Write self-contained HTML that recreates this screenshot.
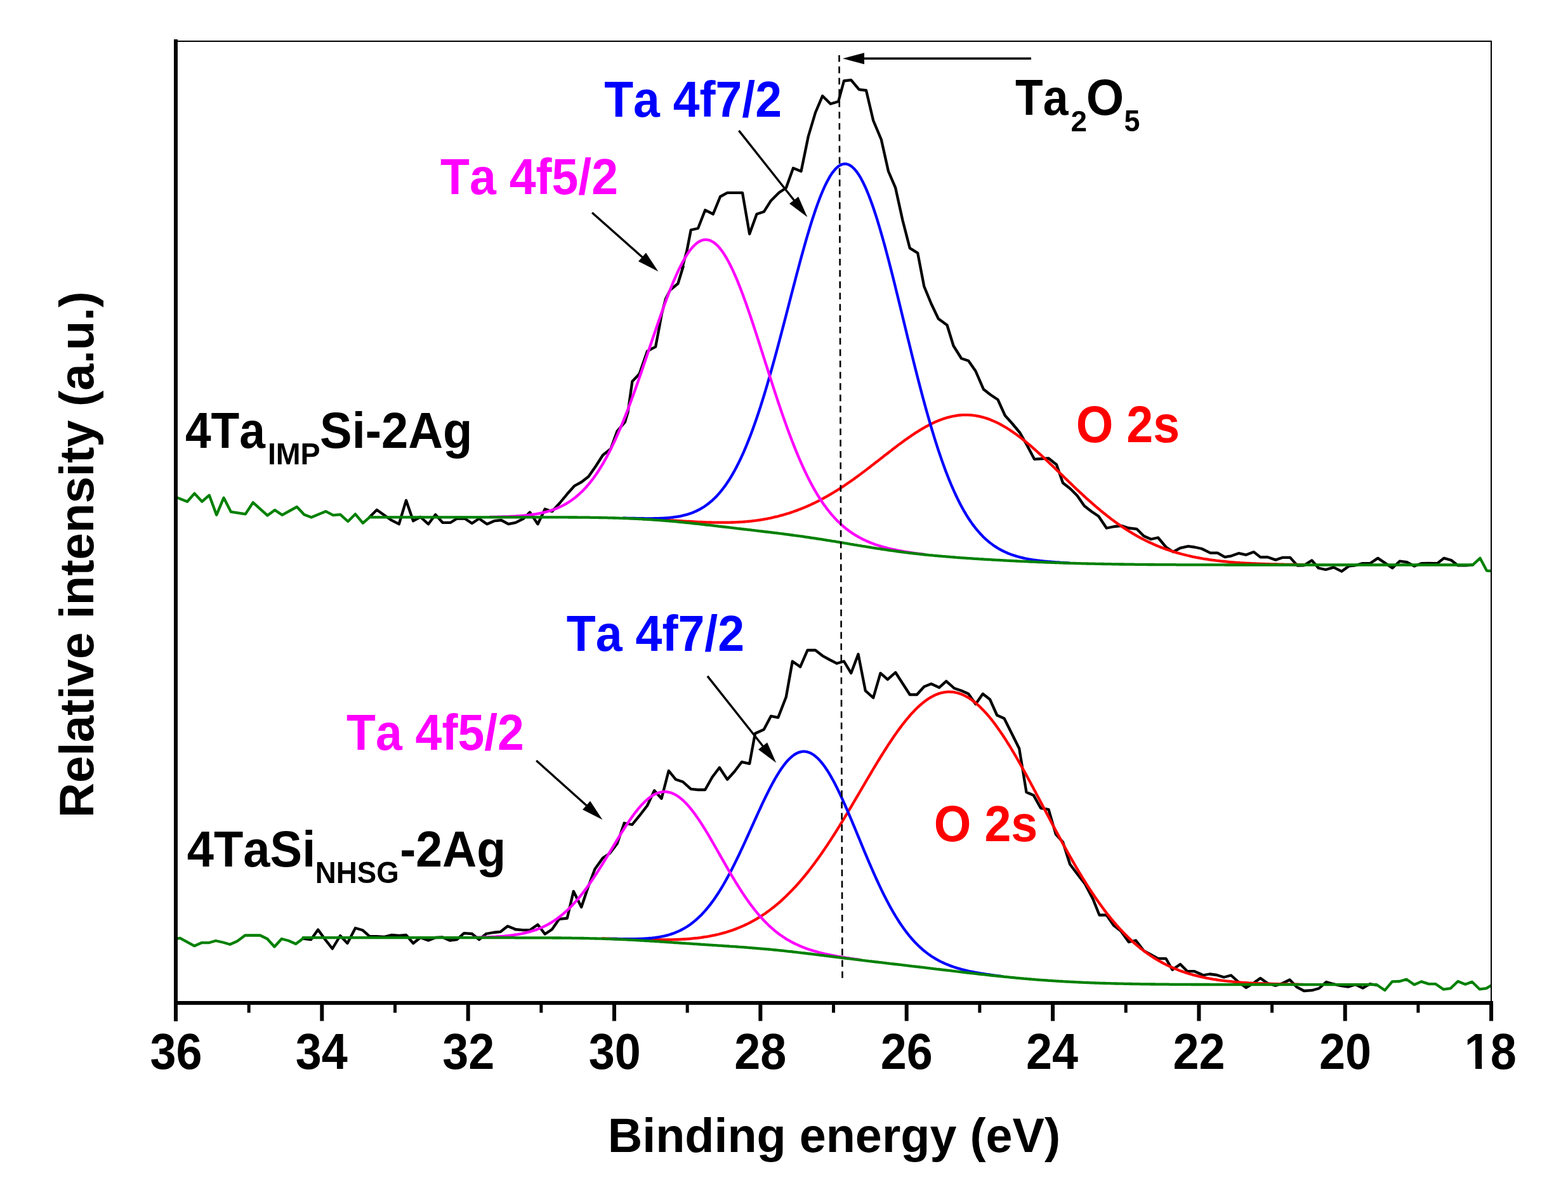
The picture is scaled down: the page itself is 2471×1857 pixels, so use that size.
<!DOCTYPE html><html><head><meta charset="utf-8"><title>XPS Ta 4f spectra</title><style>html,body{margin:0;padding:0;background:#fff}svg{display:block}</style></head><body>
<svg width="2471" height="1857" viewBox="0 0 2471 1857">
<rect width="2471" height="1857" fill="#fff"/>
<defs><clipPath id="pc"><rect x="280" y="66" width="2069" height="1512"/></clipPath></defs>
<g clip-path="url(#pc)" fill="none" stroke-width="4.3" stroke-linejoin="round" stroke-linecap="round">
<path stroke="#000" d="M582.5,815.0 L593.8,803.8 L617.0,820.2 L628.8,826.2 L640.0,788.8 L651.2,821.2 L662.5,815.0 L675.0,826.2 L686.2,811.2 L697.5,823.8 L710.0,823.8 L720.0,817.5 L732.5,817.5 L743.8,825.0 L755.0,817.5 L767.5,826.2 L778.8,821.2 L790.0,820.0 L801.2,826.2 L812.5,823.8 L825.0,817.5 L835.0,807.5 L847.5,826.2 L858.8,802.5 L870.0,806.2 L882.5,792.5 L893.8,778.8 L905.0,766.2 L916.2,760.0 L927.5,751.2 L938.8,735.0 L950.0,717.5 L962.5,707.5 L972.5,680.0 L985.0,665.0 L989.5,650.0 L996.4,601.3 L1007.5,589.6 L1020.0,553.6 L1033.1,546.6 L1039.3,514.1 L1042.8,494.7 L1049.0,471.2 L1056.0,457.4 L1068.4,447.0 L1076.7,420.0 L1075.0,422.5 L1082.5,395.0 L1088.8,362.5 L1100.0,360.0 L1111.2,331.2 L1123.8,337.5 L1135.0,310.0 L1146.2,303.8 L1170.0,303.8 L1181.2,368.8 L1192.5,337.5 L1203.8,333.8 L1215.0,316.2 L1227.5,303.8 L1238.8,296.2 L1250.0,265.0 L1262.5,270.0 L1273.8,215.0 L1285.0,177.5 L1296.2,151.2 L1308.8,163.8 L1321.2,160.0 L1330.0,127.5 L1341.2,126.2 L1353.8,141.2 L1365.0,142.5 L1376.2,190.0 L1388.8,220.0 L1400.0,270.0 L1411.2,296.2 L1422.5,347.5 L1433.8,391.2 L1446.2,398.8 L1456.2,451.2 L1467.5,478.8 L1478.8,502.5 L1492.5,512.5 L1502.5,545.0 L1515.0,565.0 L1526.2,568.8 L1537.5,585.0 L1550.0,613.8 L1561.2,622.5 L1572.5,630.0 L1583.8,655.0 L1595.0,667.5 L1607.5,682.5 L1618.8,702.5 L1630.0,723.8 L1652.5,722.5 L1665.0,732.5 L1675.0,761.2 L1686.2,770.0 L1697.5,781.2 L1708.8,797.5 L1720.0,806.2 L1731.2,813.8 L1743.8,832.5 L1756.2,830.0 L1767.5,828.8 L1778.8,832.5 L1791.2,833.8 L1802.5,845.0 L1813.8,850.0 L1825.0,847.5 L1837.5,862.5 L1848.8,870.0 L1860.0,863.8 L1872.5,861.2 L1882.5,862.5 L1893.8,865.0 L1907.3,871.6 L1918.7,871.6 L1930.2,878.2 L1940.6,876.3 L1952.0,872.2 L1963.4,874.7 L1975.9,870.1 L1986.3,878.4 L1997.7,878.2 L2010.2,882.6 L2021.7,878.8 L2033.1,878.8 L2044.5,891.7 L2054.9,891.3 L2067.4,883.4 L2077.8,895.5 L2089.2,898.0 L2101.7,894.4 L2114.2,900.7 L2125.6,892.4 L2136.0,891.3 L2146.4,888.2 L2158.9,888.2 L2171.4,879.9 L2182.8,887.6 L2194.3,895.5 L2205.7,884.7 L2217.1,886.1 L2228.6,892.4 L2240.0,888.2 L2251.4,887.8 L2265.0,888.2 L2275.4,879.9 L2286.8,883.0 L2297.2,891.3 L2310.7,891.3 L2321.1,890.3"/>
<path stroke="#000" d="M477.5,1479.5 L490.0,1481.2 L501.2,1465.5 L512.5,1481.2 L523.8,1495.5 L536.2,1475.0 L547.5,1487.0 L560.0,1463.0 L571.2,1466.2 L582.5,1476.2 L593.8,1476.2 L605.0,1477.0 L617.5,1473.8 L628.8,1475.0 L640.0,1473.8 L651.2,1487.0 L662.5,1478.0 L675.0,1482.5 L686.2,1478.0 L697.5,1477.5 L708.8,1482.5 L720.0,1481.2 L731.2,1471.2 L743.8,1472.0 L755.0,1481.2 L766.2,1472.0 L777.5,1470.0 L788.8,1468.8 L800.0,1460.0 L812.5,1465.0 L811.2,1465.0 L823.8,1466.2 L835.0,1466.2 L847.5,1457.5 L858.8,1472.5 L870.0,1465.0 L881.2,1448.8 L893.8,1447.5 L903.8,1405.0 L916.2,1430.0 L926.2,1400.0 L937.5,1370.0 L950.0,1352.5 L961.2,1345.0 L972.5,1330.0 L983.8,1297.5 L996.2,1300.0 L1007.5,1286.2 L1020.0,1270.0 L1031.2,1246.2 L1042.5,1258.8 L1053.8,1215.0 L1065.0,1228.8 L1076.2,1232.5 L1088.8,1243.8 L1100.0,1245.0 L1111.2,1245.0 L1122.5,1225.0 L1133.8,1210.0 L1146.2,1228.8 L1157.5,1216.2 L1168.8,1201.2 L1181.2,1203.8 L1190.0,1156.2 L1203.8,1150.0 L1215.0,1128.8 L1226.2,1131.2 L1238.8,1098.8 L1248.8,1042.5 L1261.2,1051.2 L1272.5,1025.0 L1285.0,1025.0 L1296.2,1033.8 L1307.5,1040.0 L1318.8,1045.8 L1330.0,1042.5 L1341.2,1061.2 L1352.5,1031.2 L1363.8,1088.8 L1376.2,1100.0 L1387.5,1061.2 L1398.8,1071.2 L1411.2,1060.0 L1422.5,1077.5 L1433.8,1095.0 L1445.0,1095.0 L1456.2,1082.5 L1467.5,1078.0 L1480.0,1083.8 L1491.2,1073.8 L1503.8,1085.0 L1515.0,1088.8 L1526.2,1093.8 L1537.5,1110.0 L1548.8,1093.8 L1560.0,1102.5 L1571.2,1127.5 L1582.5,1132.5 L1595.0,1157.5 L1606.2,1180.0 L1617.5,1248.8 L1628.8,1253.8 L1640.0,1273.8 L1652.5,1276.2 L1663.8,1315.0 L1675.0,1327.5 L1686.2,1362.5 L1686.2,1362.5 L1697.5,1377.5 L1710.0,1393.8 L1722.5,1417.5 L1732.5,1442.5 L1743.8,1442.5 L1755.0,1458.8 L1766.2,1467.5 L1778.8,1485.0 L1790.0,1482.5 L1802.5,1498.8 L1813.8,1505.0 L1825.0,1511.2 L1837.5,1511.2 L1847.5,1528.8 L1860.0,1520.0 L1871.2,1531.2 L1882.5,1531.2 L1893.8,1536.2 L1895.0,1537.5 L1906.2,1535.5 L1917.5,1537.0 L1928.8,1540.5 L1940.0,1537.5 L1951.2,1547.5 L1963.8,1557.0 L1975.0,1550.0 L1986.2,1542.0 L1997.5,1550.0 L2010.0,1553.8 L2021.2,1550.0 L2032.5,1544.5 L2043.8,1556.2 L2055.0,1562.0 L2067.5,1561.2 L2078.8,1558.0 L2090.0,1548.0 L2101.2,1551.2 L2112.5,1553.8 L2125.0,1555.5 L2136.2,1552.0 L2147.5,1557.5 L2158.8,1551.2 L2170.0,1553.0"/>
<path stroke="#ff0000" d="M1000.5,817.4 L1002.5,817.5 L1004.5,817.5 L1006.5,817.6 L1008.5,817.7 L1010.5,817.8 L1012.5,817.9 L1014.5,818.0 L1016.5,818.1 L1018.5,818.2 L1020.5,818.3 L1022.5,818.4 L1024.5,818.5 L1026.5,818.6 L1028.5,818.7 L1030.5,818.8 L1032.5,818.9 L1034.5,819.0 L1036.5,819.1 L1038.5,819.2 L1040.5,819.3 L1042.5,819.4 L1044.5,819.5 L1046.5,819.7 L1048.5,819.8 L1050.5,819.9 L1052.5,820.0 L1054.5,820.1 L1056.5,820.3 L1058.5,820.4 L1060.5,820.5 L1062.5,820.6 L1064.5,820.7 L1066.5,820.9 L1068.5,821.0 L1070.5,821.1 L1072.5,821.2 L1074.5,821.3 L1076.5,821.5 L1078.5,821.6 L1080.5,821.7 L1082.5,821.8 L1084.5,821.9 L1086.5,822.0 L1088.5,822.1 L1090.5,822.2 L1092.5,822.4 L1094.5,822.5 L1096.5,822.6 L1098.5,822.7 L1100.5,822.8 L1102.5,822.8 L1104.5,822.9 L1106.5,823.0 L1108.5,823.1 L1110.5,823.2 L1112.5,823.3 L1114.5,823.3 L1116.5,823.4 L1118.5,823.5 L1120.5,823.5 L1122.5,823.6 L1124.5,823.6 L1126.5,823.6 L1128.5,823.7 L1130.5,823.7 L1132.5,823.7 L1134.5,823.7 L1136.5,823.7 L1138.5,823.7 L1140.5,823.7 L1142.5,823.7 L1144.5,823.7 L1146.5,823.7 L1148.5,823.6 L1150.5,823.6 L1152.5,823.5 L1154.5,823.5 L1156.5,823.4 L1158.5,823.3 L1160.5,823.2 L1162.5,823.1 L1164.5,823.0 L1166.5,822.9 L1168.5,822.8 L1170.5,822.6 L1172.5,822.5 L1174.5,822.3 L1176.5,822.2 L1178.5,822.0 L1180.5,821.8 L1182.5,821.6 L1184.5,821.4 L1186.5,821.1 L1188.5,820.9 L1190.5,820.6 L1192.5,820.4 L1194.5,820.1 L1196.5,819.8 L1198.5,819.5 L1200.5,819.2 L1202.5,818.8 L1204.5,818.5 L1206.5,818.1 L1208.5,817.8 L1210.5,817.4 L1212.5,817.0 L1214.5,816.6 L1216.5,816.1 L1218.5,815.7 L1220.5,815.2 L1222.5,814.7 L1224.5,814.3 L1226.5,813.8 L1228.5,813.2 L1230.5,812.7 L1232.5,812.2 L1234.5,811.6 L1236.5,811.0 L1238.5,810.4 L1240.5,809.8 L1242.5,809.2 L1244.5,808.6 L1246.5,807.9 L1248.5,807.2 L1250.5,806.5 L1252.5,805.8 L1254.5,805.1 L1256.5,804.4 L1258.5,803.6 L1260.5,802.8 L1262.5,802.1 L1264.5,801.3 L1266.5,800.4 L1268.5,799.6 L1270.5,798.7 L1272.5,797.9 L1274.5,797.0 L1276.5,796.1 L1278.5,795.2 L1280.5,794.2 L1282.5,793.3 L1284.5,792.3 L1286.5,791.3 L1288.5,790.3 L1290.5,789.3 L1292.5,788.2 L1294.5,787.2 L1296.5,786.1 L1298.5,785.0 L1300.5,783.9 L1302.5,782.8 L1304.5,781.7 L1306.5,780.5 L1308.5,779.4 L1310.5,778.2 L1312.5,777.0 L1314.5,775.8 L1316.5,774.5 L1318.5,773.3 L1320.5,772.0 L1322.5,770.8 L1324.5,769.5 L1326.5,768.2 L1328.5,766.9 L1330.5,765.5 L1332.5,764.2 L1334.5,762.8 L1336.5,761.5 L1338.5,760.1 L1340.5,758.7 L1342.5,757.3 L1344.5,755.9 L1346.5,754.4 L1348.5,753.0 L1350.5,751.5 L1352.5,750.1 L1354.5,748.6 L1356.5,747.1 L1358.5,745.6 L1360.5,744.1 L1362.5,742.6 L1364.5,741.1 L1366.5,739.6 L1368.5,738.0 L1370.5,736.5 L1372.5,735.0 L1374.5,733.4 L1376.5,731.9 L1378.5,730.3 L1380.5,728.8 L1382.5,727.2 L1384.5,725.6 L1386.5,724.1 L1388.5,722.5 L1390.5,721.0 L1392.5,719.4 L1394.5,717.8 L1396.5,716.3 L1398.5,714.7 L1400.5,713.2 L1402.5,711.6 L1404.5,710.1 L1406.5,708.5 L1408.5,707.0 L1410.5,705.5 L1412.5,703.9 L1414.5,702.4 L1416.5,700.9 L1418.5,699.4 L1420.5,698.0 L1422.5,696.5 L1424.5,695.0 L1426.5,693.6 L1428.5,692.2 L1430.5,690.7 L1432.5,689.4 L1434.5,688.0 L1436.5,686.6 L1438.5,685.3 L1440.5,683.9 L1442.5,682.6 L1444.5,681.3 L1446.5,680.1 L1448.5,678.8 L1450.5,677.6 L1452.5,676.4 L1454.5,675.2 L1456.5,674.1 L1458.5,672.9 L1460.5,671.8 L1462.5,670.8 L1464.5,669.7 L1466.5,668.7 L1468.5,667.7 L1470.5,666.8 L1472.5,665.8 L1474.5,664.9 L1476.5,664.1 L1478.5,663.2 L1480.5,662.4 L1482.5,661.7 L1484.5,661.0 L1486.5,660.3 L1488.5,659.6 L1490.5,659.0 L1492.5,658.4 L1494.5,657.8 L1496.5,657.3 L1498.5,656.8 L1500.5,656.4 L1502.5,656.0 L1504.5,655.6 L1506.5,655.3 L1508.5,655.0 L1510.5,654.7 L1512.5,654.5 L1514.5,654.4 L1516.5,654.2 L1518.5,654.1 L1520.5,654.1 L1522.5,654.1 L1524.5,654.1 L1526.5,654.2 L1528.5,654.3 L1530.5,654.4 L1532.5,654.6 L1534.5,654.9 L1536.5,655.1 L1538.5,655.5 L1540.5,655.8 L1542.5,656.2 L1544.5,656.7 L1546.5,657.1 L1548.5,657.7 L1550.5,658.2 L1552.5,658.8 L1554.5,659.4 L1556.5,660.1 L1558.5,660.8 L1560.5,661.6 L1562.5,662.4 L1564.5,663.2 L1566.5,664.1 L1568.5,665.0 L1570.5,665.9 L1572.5,666.9 L1574.5,667.9 L1576.5,669.0 L1578.5,670.0 L1580.5,671.2 L1582.5,672.3 L1584.5,673.5 L1586.5,674.7 L1588.5,676.0 L1590.5,677.2 L1592.5,678.6 L1594.5,679.9 L1596.5,681.3 L1598.5,682.7 L1600.5,684.1 L1602.5,685.5 L1604.5,687.0 L1606.5,688.5 L1608.5,690.1 L1610.5,691.6 L1612.5,693.2 L1614.5,694.8 L1616.5,696.4 L1618.5,698.1 L1620.5,699.8 L1622.5,701.4 L1624.5,703.2 L1626.5,704.9 L1628.5,706.6 L1630.5,708.4 L1632.5,710.2 L1634.5,712.0 L1636.5,713.8 L1638.5,715.6 L1640.5,717.4 L1642.5,719.3 L1644.5,721.1 L1646.5,723.0 L1648.5,724.9 L1650.5,726.8 L1652.5,728.7 L1654.5,730.6 L1656.5,732.5 L1658.5,734.4 L1660.5,736.3 L1662.5,738.2 L1664.5,740.2 L1666.5,742.1 L1668.5,744.0 L1670.5,746.0 L1672.5,747.9 L1674.5,749.8 L1676.5,751.8 L1678.5,753.7 L1680.5,755.6 L1682.5,757.6 L1684.5,759.5 L1686.5,761.4 L1688.5,763.3 L1690.5,765.3 L1692.5,767.2 L1694.5,769.1 L1696.5,771.0 L1698.5,772.8 L1700.5,774.7 L1702.5,776.6 L1704.5,778.4 L1706.5,780.3 L1708.5,782.1 L1710.5,784.0 L1712.5,785.8 L1714.5,787.6 L1716.5,789.4 L1718.5,791.1 L1720.5,792.9 L1722.5,794.7 L1724.5,796.4 L1726.5,798.1 L1728.5,799.8 L1730.5,801.5 L1732.5,803.2 L1734.5,804.9 L1736.5,806.5 L1738.5,808.1 L1740.5,809.7 L1742.5,811.3 L1744.5,812.9 L1746.5,814.5 L1748.5,816.0 L1750.5,817.6 L1752.5,819.1 L1754.5,820.6 L1756.5,822.0 L1758.5,823.5 L1760.5,824.9 L1762.5,826.3 L1764.5,827.7 L1766.5,829.1 L1768.5,830.5 L1770.5,831.8 L1772.5,833.1 L1774.5,834.4 L1776.5,835.7 L1778.5,837.0 L1780.5,838.2 L1782.5,839.4 L1784.5,840.6 L1786.5,841.8 L1788.5,843.0 L1790.5,844.1 L1792.5,845.3 L1794.5,846.4 L1796.5,847.5 L1798.5,848.5 L1800.5,849.6 L1802.5,850.6 L1804.5,851.6 L1806.5,852.6 L1808.5,853.6 L1810.5,854.5 L1812.5,855.5 L1814.5,856.4 L1816.5,857.3 L1818.5,858.2 L1820.5,859.1 L1822.5,859.9 L1824.5,860.7 L1826.5,861.6 L1828.5,862.4 L1830.5,863.1 L1832.5,863.9 L1834.5,864.6 L1836.5,865.4 L1838.5,866.1 L1840.5,866.8 L1842.5,867.5 L1844.5,868.1 L1846.5,868.8 L1848.5,869.4 L1850.5,870.1 L1852.5,870.7 L1854.5,871.3 L1856.5,871.8 L1858.5,872.4 L1860.5,873.0 L1862.5,873.5 L1864.5,874.0 L1866.5,874.5 L1868.5,875.0 L1870.5,875.5 L1872.5,876.0 L1874.5,876.4 L1876.5,876.9 L1878.5,877.3 L1880.5,877.8 L1882.5,878.2 L1884.5,878.6 L1886.5,879.0 L1888.5,879.3 L1890.5,879.7 L1892.5,880.1 L1894.5,880.4 L1896.5,880.8 L1898.5,881.1 L1900.5,881.4 L1902.5,881.7 L1904.5,882.0 L1906.5,882.3 L1908.5,882.6 L1910.5,882.9 L1912.5,883.1 L1914.5,883.4 L1916.5,883.7 L1918.5,883.9 L1920.5,884.1 L1922.5,884.4 L1924.5,884.6 L1926.5,884.8 L1928.5,885.0 L1930.5,885.2 L1932.5,885.4 L1934.5,885.6 L1936.5,885.8 L1938.5,886.0 L1940.5,886.1 L1942.5,886.3 L1944.5,886.5 L1946.5,886.6 L1948.5,886.8 L1950.5,886.9 L1952.5,887.0 L1954.5,887.2 L1956.5,887.3 L1958.5,887.4 L1960.5,887.6 L1962.5,887.7 L1964.5,887.8 L1966.5,887.9 L1968.5,888.0 L1970.5,888.1 L1972.5,888.2 L1974.5,888.3 L1976.5,888.4 L1978.5,888.5 L1980.5,888.6 L1982.5,888.6 L1984.5,888.7 L1986.5,888.8 L1988.5,888.9 L1990.5,888.9 L1992.5,889.0 L1994.5,889.1 L1996.5,889.1 L1998.5,889.2 L2000.5,889.2 L2002.5,889.3 L2004.5,889.3 L2006.5,889.4 L2008.5,889.4 L2010.5,889.5 L2012.5,889.5 L2014.5,889.6 L2016.5,889.6 L2018.5,889.7 L2020.5,889.7 L2022.5,889.7 L2024.5,889.8 L2026.5,889.8 L2028.5,889.8 L2030.5,889.9 L2032.5,889.9 L2034.5,889.9 L2036.5,890.0 L2038.5,890.0 L2040.5,890.0 L2042.5,890.0 L2044.5,890.0 L2046.5,890.1 L2048.5,890.1 L2050.5,890.1 L2052.5,890.1 L2054.5,890.1 L2056.5,890.2"/>
<path stroke="#0000ff" d="M982.5,816.6 L984.5,816.7 L986.5,816.7 L988.5,816.8 L990.5,816.8 L992.5,816.9 L994.5,816.9 L996.5,816.9 L998.5,817.0 L1000.5,817.0 L1002.5,817.1 L1004.5,817.1 L1006.5,817.1 L1008.5,817.2 L1010.5,817.2 L1012.5,817.2 L1014.5,817.2 L1016.5,817.3 L1018.5,817.3 L1020.5,817.3 L1022.5,817.3 L1024.5,817.3 L1026.5,817.3 L1028.5,817.3 L1030.5,817.2 L1032.5,817.2 L1034.5,817.2 L1036.5,817.1 L1038.5,817.1 L1040.5,817.0 L1042.5,816.9 L1044.5,816.8 L1046.5,816.7 L1048.5,816.6 L1050.5,816.4 L1052.5,816.3 L1054.5,816.1 L1056.5,815.9 L1058.5,815.7 L1060.5,815.5 L1062.5,815.2 L1064.5,814.9 L1066.5,814.6 L1068.5,814.3 L1070.5,814.0 L1072.5,813.6 L1074.5,813.1 L1076.5,812.7 L1078.5,812.2 L1080.5,811.7 L1082.5,811.1 L1084.5,810.5 L1086.5,809.9 L1088.5,809.2 L1090.5,808.5 L1092.5,807.7 L1094.5,806.8 L1096.5,806.0 L1098.5,805.0 L1100.5,804.0 L1102.5,803.0 L1104.5,801.9 L1106.5,800.7 L1108.5,799.5 L1110.5,798.2 L1112.5,796.8 L1114.5,795.3 L1116.5,793.8 L1118.5,792.2 L1120.5,790.5 L1122.5,788.8 L1124.5,786.9 L1126.5,785.0 L1128.5,783.0 L1130.5,780.9 L1132.5,778.6 L1134.5,776.3 L1136.5,773.9 L1138.5,771.4 L1140.5,768.8 L1142.5,766.1 L1144.5,763.3 L1146.5,760.3 L1148.5,757.3 L1150.5,754.1 L1152.5,750.8 L1154.5,747.4 L1156.5,743.9 L1158.5,740.3 L1160.5,736.5 L1162.5,732.6 L1164.5,728.6 L1166.5,724.5 L1168.5,720.2 L1170.5,715.8 L1172.5,711.3 L1174.5,706.6 L1176.5,701.9 L1178.5,696.9 L1180.5,691.9 L1182.5,686.7 L1184.5,681.4 L1186.5,676.0 L1188.5,670.4 L1190.5,664.8 L1192.5,659.0 L1194.5,653.0 L1196.5,647.0 L1198.5,640.8 L1200.5,634.5 L1202.5,628.1 L1204.5,621.6 L1206.5,615.0 L1208.5,608.3 L1210.5,601.4 L1212.5,594.5 L1214.5,587.5 L1216.5,580.4 L1218.5,573.2 L1220.5,566.0 L1222.5,558.6 L1224.5,551.2 L1226.5,543.7 L1228.5,536.2 L1230.5,528.6 L1232.5,521.0 L1234.5,513.4 L1236.5,505.7 L1238.5,498.0 L1240.5,490.2 L1242.5,482.5 L1244.5,474.8 L1246.5,467.0 L1248.5,459.3 L1250.5,451.6 L1252.5,444.0 L1254.5,436.3 L1256.5,428.8 L1258.5,421.3 L1260.5,413.8 L1262.5,406.4 L1264.5,399.2 L1266.5,392.0 L1268.5,384.9 L1270.5,377.9 L1272.5,371.0 L1274.5,364.3 L1276.5,357.7 L1278.5,351.2 L1280.5,344.9 L1282.5,338.8 L1284.5,332.8 L1286.5,327.0 L1288.5,321.4 L1290.5,316.0 L1292.5,310.8 L1294.5,305.8 L1296.5,301.0 L1298.5,296.4 L1300.5,292.1 L1302.5,288.0 L1304.5,284.2 L1306.5,280.6 L1308.5,277.2 L1310.5,274.1 L1312.5,271.3 L1314.5,268.8 L1316.5,266.5 L1318.5,264.5 L1320.5,262.8 L1322.5,261.3 L1324.5,260.2 L1326.5,259.3 L1328.5,258.7 L1330.5,258.4 L1332.5,258.4 L1334.5,258.7 L1336.5,259.3 L1338.5,260.1 L1340.5,261.3 L1342.5,262.7 L1344.5,264.5 L1346.5,266.5 L1348.5,268.8 L1350.5,271.4 L1352.5,274.2 L1354.5,277.4 L1356.5,280.7 L1358.5,284.4 L1360.5,288.3 L1362.5,292.5 L1364.5,296.9 L1366.5,301.6 L1368.5,306.5 L1370.5,311.6 L1372.5,316.9 L1374.5,322.5 L1376.5,328.3 L1378.5,334.2 L1380.5,340.4 L1382.5,346.7 L1384.5,353.3 L1386.5,360.0 L1388.5,366.8 L1390.5,373.8 L1392.5,381.0 L1394.5,388.2 L1396.5,395.7 L1398.5,403.2 L1400.5,410.8 L1402.5,418.6 L1404.5,426.4 L1406.5,434.3 L1408.5,442.3 L1410.5,450.3 L1412.5,458.4 L1414.5,466.6 L1416.5,474.7 L1418.5,483.0 L1420.5,491.2 L1422.5,499.4 L1424.5,507.7 L1426.5,515.9 L1428.5,524.2 L1430.5,532.4 L1432.5,540.6 L1434.5,548.8 L1436.5,556.9 L1438.5,565.0 L1440.5,573.0 L1442.5,581.0 L1444.5,588.9 L1446.5,596.7 L1448.5,604.4 L1450.5,612.1 L1452.5,619.7 L1454.5,627.2 L1456.5,634.6 L1458.5,641.9 L1460.5,649.1 L1462.5,656.2 L1464.5,663.2 L1466.5,670.1 L1468.5,676.8 L1470.5,683.4 L1472.5,690.0 L1474.5,696.4 L1476.5,702.6 L1478.5,708.8 L1480.5,714.8 L1482.5,720.6 L1484.5,726.4 L1486.5,732.0 L1488.5,737.5 L1490.5,742.9 L1492.5,748.1 L1494.5,753.2 L1496.5,758.1 L1498.5,763.0 L1500.5,767.7 L1502.5,772.2 L1504.5,776.7 L1506.5,781.0 L1508.5,785.2 L1510.5,789.2 L1512.5,793.2 L1514.5,797.0 L1516.5,800.7 L1518.5,804.3 L1520.5,807.7 L1522.5,811.1 L1524.5,814.3 L1526.5,817.5 L1528.5,820.5 L1530.5,823.4 L1532.5,826.2 L1534.5,828.9 L1536.5,831.5 L1538.5,834.0 L1540.5,836.4 L1542.5,838.7 L1544.5,841.0 L1546.5,843.1 L1548.5,845.2 L1550.5,847.2 L1552.5,849.1 L1554.5,850.9 L1556.5,852.6 L1558.5,854.3 L1560.5,855.9 L1562.5,857.4 L1564.5,858.9 L1566.5,860.3 L1568.5,861.6 L1570.5,862.9 L1572.5,864.2 L1574.5,865.3 L1576.5,866.4 L1578.5,867.5 L1580.5,868.5 L1582.5,869.5 L1584.5,870.4 L1586.5,871.3 L1588.5,872.2 L1590.5,873.0 L1592.5,873.7 L1594.5,874.5 L1596.5,875.1 L1598.5,875.8 L1600.5,876.4 L1602.5,877.0 L1604.5,877.6 L1606.5,878.1 L1608.5,878.7 L1610.5,879.1 L1612.5,879.6 L1614.5,880.1 L1616.5,880.5 L1618.5,880.9 L1620.5,881.3 L1622.5,881.6 L1624.5,882.0 L1626.5,882.3 L1628.5,882.6 L1630.5,882.9 L1632.5,883.2 L1634.5,883.5 L1636.5,883.7 L1638.5,884.0 L1640.5,884.2 L1642.5,884.4 L1644.5,884.6 L1646.5,884.8 L1648.5,885.0 L1650.5,885.2 L1652.5,885.4 L1654.5,885.5 L1656.5,885.7 L1658.5,885.9 L1660.5,886.0 L1662.5,886.1 L1664.5,886.3 L1666.5,886.4 L1668.5,886.5 L1670.5,886.7 L1672.5,886.8 L1674.5,886.9 L1676.5,887.0 L1678.5,887.1 L1680.5,887.2 L1682.5,887.3 L1684.5,887.4"/>
<path stroke="#ff00ff" d="M772.5,814.9 L774.5,814.9 L776.5,814.9 L778.5,814.9 L780.5,814.8 L782.5,814.8 L784.5,814.7 L786.5,814.7 L788.5,814.6 L790.5,814.6 L792.5,814.5 L794.5,814.5 L796.5,814.4 L798.5,814.3 L800.5,814.3 L802.5,814.2 L804.5,814.1 L806.5,814.0 L808.5,813.9 L810.5,813.8 L812.5,813.7 L814.5,813.5 L816.5,813.4 L818.5,813.3 L820.5,813.1 L822.5,812.9 L824.5,812.8 L826.5,812.6 L828.5,812.4 L830.5,812.2 L832.5,812.0 L834.5,811.7 L836.5,811.5 L838.5,811.2 L840.5,810.9 L842.5,810.6 L844.5,810.3 L846.5,809.9 L848.5,809.6 L850.5,809.2 L852.5,808.8 L854.5,808.4 L856.5,807.9 L858.5,807.4 L860.5,806.9 L862.5,806.4 L864.5,805.8 L866.5,805.2 L868.5,804.6 L870.5,803.9 L872.5,803.2 L874.5,802.4 L876.5,801.7 L878.5,800.9 L880.5,800.0 L882.5,799.1 L884.5,798.1 L886.5,797.1 L888.5,796.1 L890.5,795.0 L892.5,793.9 L894.5,792.7 L896.5,791.4 L898.5,790.1 L900.5,788.7 L902.5,787.3 L904.5,785.8 L906.5,784.2 L908.5,782.6 L910.5,780.9 L912.5,779.2 L914.5,777.3 L916.5,775.4 L918.5,773.4 L920.5,771.4 L922.5,769.3 L924.5,767.0 L926.5,764.7 L928.5,762.4 L930.5,759.9 L932.5,757.3 L934.5,754.7 L936.5,752.0 L938.5,749.1 L940.5,746.2 L942.5,743.2 L944.5,740.1 L946.5,736.9 L948.5,733.7 L950.5,730.3 L952.5,726.8 L954.5,723.2 L956.5,719.5 L958.5,715.8 L960.5,711.9 L962.5,707.9 L964.5,703.9 L966.5,699.7 L968.5,695.5 L970.5,691.1 L972.5,686.7 L974.5,682.1 L976.5,677.5 L978.5,672.8 L980.5,668.0 L982.5,663.1 L984.5,658.1 L986.5,653.1 L988.5,647.9 L990.5,642.7 L992.5,637.4 L994.5,632.1 L996.5,626.6 L998.5,621.1 L1000.5,615.6 L1002.5,610.0 L1004.5,604.3 L1006.5,598.6 L1008.5,592.8 L1010.5,587.0 L1012.5,581.2 L1014.5,575.3 L1016.5,569.4 L1018.5,563.5 L1020.5,557.6 L1022.5,551.7 L1024.5,545.8 L1026.5,539.8 L1028.5,533.9 L1030.5,528.0 L1032.5,522.1 L1034.5,516.3 L1036.5,510.5 L1038.5,504.7 L1040.5,499.0 L1042.5,493.3 L1044.5,487.7 L1046.5,482.1 L1048.5,476.7 L1050.5,471.3 L1052.5,466.0 L1054.5,460.8 L1056.5,455.7 L1058.5,450.7 L1060.5,445.8 L1062.5,441.1 L1064.5,436.5 L1066.5,432.0 L1068.5,427.6 L1070.5,423.4 L1072.5,419.4 L1074.5,415.5 L1076.5,411.8 L1078.5,408.2 L1080.5,404.8 L1082.5,401.6 L1084.5,398.6 L1086.5,395.8 L1088.5,393.2 L1090.5,390.7 L1092.5,388.5 L1094.5,386.5 L1096.5,384.7 L1098.5,383.0 L1100.5,381.6 L1102.5,380.5 L1104.5,379.5 L1106.5,378.8 L1108.5,378.2 L1110.5,377.9 L1112.5,377.9 L1114.5,378.0 L1116.5,378.4 L1118.5,378.9 L1120.5,379.8 L1122.5,380.8 L1124.5,382.0 L1126.5,383.5 L1128.5,385.2 L1130.5,387.1 L1132.5,389.2 L1134.5,391.5 L1136.5,394.1 L1138.5,396.8 L1140.5,399.7 L1142.5,402.8 L1144.5,406.2 L1146.5,409.7 L1148.5,413.3 L1150.5,417.2 L1152.5,421.2 L1154.5,425.4 L1156.5,429.8 L1158.5,434.3 L1160.5,438.9 L1162.5,443.7 L1164.5,448.7 L1166.5,453.8 L1168.5,459.0 L1170.5,464.3 L1172.5,469.7 L1174.5,475.2 L1176.5,480.8 L1178.5,486.6 L1180.5,492.4 L1182.5,498.3 L1184.5,504.2 L1186.5,510.2 L1188.5,516.3 L1190.5,522.4 L1192.5,528.6 L1194.5,534.8 L1196.5,541.0 L1198.5,547.3 L1200.5,553.6 L1202.5,559.9 L1204.5,566.2 L1206.5,572.4 L1208.5,578.7 L1210.5,585.0 L1212.5,591.3 L1214.5,597.5 L1216.5,603.7 L1218.5,609.9 L1220.5,616.0 L1222.5,622.1 L1224.5,628.2 L1226.5,634.2 L1228.5,640.1 L1230.5,646.0 L1232.5,651.9 L1234.5,657.6 L1236.5,663.3 L1238.5,668.9 L1240.5,674.4 L1242.5,679.9 L1244.5,685.3 L1246.5,690.6 L1248.5,695.8 L1250.5,700.9 L1252.5,705.9 L1254.5,710.9 L1256.5,715.7 L1258.5,720.5 L1260.5,725.1 L1262.5,729.7 L1264.5,734.2 L1266.5,738.5 L1268.5,742.8 L1270.5,747.0 L1272.5,751.1 L1274.5,755.1 L1276.5,759.0 L1278.5,762.8 L1280.5,766.5 L1282.5,770.1 L1284.5,773.6 L1286.5,777.0 L1288.5,780.3 L1290.5,783.5 L1292.5,786.7 L1294.5,789.7 L1296.5,792.7 L1298.5,795.6 L1300.5,798.3 L1302.5,801.1 L1304.5,803.7 L1306.5,806.2 L1308.5,808.7 L1310.5,811.1 L1312.5,813.4 L1314.5,815.6 L1316.5,817.8 L1318.5,819.9 L1320.5,821.9 L1322.5,823.8 L1324.5,825.7 L1326.5,827.6 L1328.5,829.3 L1330.5,831.0 L1332.5,832.7 L1334.5,834.3 L1336.5,835.8 L1338.5,837.3 L1340.5,838.7 L1342.5,840.1 L1344.5,841.4 L1346.5,842.7 L1348.5,843.9 L1350.5,845.1 L1352.5,846.2 L1354.5,847.4 L1356.5,848.4 L1358.5,849.5 L1360.5,850.5 L1362.5,851.4 L1364.5,852.3 L1366.5,853.2 L1368.5,854.1 L1370.5,854.9 L1372.5,855.7 L1374.5,856.5 L1376.5,857.2 L1378.5,858.0 L1380.5,858.7 L1382.5,859.3 L1384.5,860.0 L1386.5,860.6 L1388.5,861.2 L1390.5,861.8 L1392.5,862.4 L1394.5,862.9 L1396.5,863.4 L1398.5,864.0 L1400.5,864.5 L1402.5,864.9 L1404.5,865.4 L1406.5,865.9 L1408.5,866.3 L1410.5,866.7 L1412.5,867.1 L1414.5,867.5 L1416.5,867.9 L1418.5,868.3 L1420.5,868.7 L1422.5,869.0 L1424.5,869.4 L1426.5,869.7 L1428.5,870.1 L1430.5,870.4 L1432.5,870.7 L1434.5,871.0 L1436.5,871.3 L1438.5,871.6 L1440.5,871.9 L1442.5,872.2 L1444.5,872.4 L1446.5,872.7 L1448.5,872.9 L1450.5,873.2 L1452.5,873.4 L1454.5,873.7 L1456.5,873.9"/>
<path stroke="#ff0000" d="M949.5,1479.5 L951.5,1479.5 L953.5,1479.6 L955.5,1479.6 L957.5,1479.7 L959.5,1479.7 L961.5,1479.8 L963.5,1479.8 L965.5,1479.9 L967.5,1479.9 L969.5,1480.0 L971.5,1480.0 L973.5,1480.1 L975.5,1480.1 L977.5,1480.2 L979.5,1480.2 L981.5,1480.3 L983.5,1480.3 L985.5,1480.4 L987.5,1480.4 L989.5,1480.5 L991.5,1480.6 L993.5,1480.6 L995.5,1480.7 L997.5,1480.7 L999.5,1480.8 L1001.5,1480.8 L1003.5,1480.9 L1005.5,1480.9 L1007.5,1481.0 L1009.5,1481.0 L1011.5,1481.1 L1013.5,1481.1 L1015.5,1481.2 L1017.5,1481.2 L1019.5,1481.2 L1021.5,1481.3 L1023.5,1481.3 L1025.5,1481.3 L1027.5,1481.4 L1029.5,1481.4 L1031.5,1481.4 L1033.5,1481.4 L1035.5,1481.4 L1037.5,1481.4 L1039.5,1481.5 L1041.5,1481.5 L1043.5,1481.5 L1045.5,1481.5 L1047.5,1481.4 L1049.5,1481.4 L1051.5,1481.4 L1053.5,1481.4 L1055.5,1481.3 L1057.5,1481.3 L1059.5,1481.3 L1061.5,1481.2 L1063.5,1481.1 L1065.5,1481.1 L1067.5,1481.0 L1069.5,1480.9 L1071.5,1480.8 L1073.5,1480.7 L1075.5,1480.6 L1077.5,1480.5 L1079.5,1480.4 L1081.5,1480.3 L1083.5,1480.1 L1085.5,1480.0 L1087.5,1479.8 L1089.5,1479.6 L1091.5,1479.4 L1093.5,1479.2 L1095.5,1479.0 L1097.5,1478.8 L1099.5,1478.6 L1101.5,1478.3 L1103.5,1478.1 L1105.5,1477.8 L1107.5,1477.5 L1109.5,1477.2 L1111.5,1476.9 L1113.5,1476.6 L1115.5,1476.3 L1117.5,1475.9 L1119.5,1475.5 L1121.5,1475.1 L1123.5,1474.7 L1125.5,1474.3 L1127.5,1473.9 L1129.5,1473.4 L1131.5,1473.0 L1133.5,1472.5 L1135.5,1472.0 L1137.5,1471.4 L1139.5,1470.9 L1141.5,1470.3 L1143.5,1469.8 L1145.5,1469.2 L1147.5,1468.5 L1149.5,1467.9 L1151.5,1467.2 L1153.5,1466.6 L1155.5,1465.9 L1157.5,1465.1 L1159.5,1464.4 L1161.5,1463.6 L1163.5,1462.8 L1165.5,1462.0 L1167.5,1461.1 L1169.5,1460.3 L1171.5,1459.4 L1173.5,1458.5 L1175.5,1457.5 L1177.5,1456.6 L1179.5,1455.6 L1181.5,1454.6 L1183.5,1453.5 L1185.5,1452.4 L1187.5,1451.3 L1189.5,1450.2 L1191.5,1449.1 L1193.5,1447.9 L1195.5,1446.7 L1197.5,1445.4 L1199.5,1444.1 L1201.5,1442.8 L1203.5,1441.5 L1205.5,1440.2 L1207.5,1438.8 L1209.5,1437.3 L1211.5,1435.9 L1213.5,1434.4 L1215.5,1432.9 L1217.5,1431.3 L1219.5,1429.7 L1221.5,1428.1 L1223.5,1426.5 L1225.5,1424.8 L1227.5,1423.1 L1229.5,1421.3 L1231.5,1419.6 L1233.5,1417.7 L1235.5,1415.9 L1237.5,1414.0 L1239.5,1412.1 L1241.5,1410.1 L1243.5,1408.1 L1245.5,1406.1 L1247.5,1404.1 L1249.5,1402.0 L1251.5,1399.8 L1253.5,1397.7 L1255.5,1395.5 L1257.5,1393.2 L1259.5,1391.0 L1261.5,1388.7 L1263.5,1386.3 L1265.5,1383.9 L1267.5,1381.5 L1269.5,1379.1 L1271.5,1376.6 L1273.5,1374.1 L1275.5,1371.5 L1277.5,1369.0 L1279.5,1366.3 L1281.5,1363.7 L1283.5,1361.0 L1285.5,1358.3 L1287.5,1355.5 L1289.5,1352.8 L1291.5,1350.0 L1293.5,1347.1 L1295.5,1344.2 L1297.5,1341.3 L1299.5,1338.4 L1301.5,1335.4 L1303.5,1332.5 L1305.5,1329.4 L1307.5,1326.4 L1309.5,1323.3 L1311.5,1320.2 L1313.5,1317.1 L1315.5,1314.0 L1317.5,1310.8 L1319.5,1307.6 L1321.5,1304.4 L1323.5,1301.2 L1325.5,1297.9 L1327.5,1294.6 L1329.5,1291.3 L1331.5,1288.0 L1333.5,1284.7 L1335.5,1281.4 L1337.5,1278.0 L1339.5,1274.7 L1341.5,1271.3 L1343.5,1267.9 L1345.5,1264.5 L1347.5,1261.1 L1349.5,1257.7 L1351.5,1254.3 L1353.5,1250.9 L1355.5,1247.5 L1357.5,1244.1 L1359.5,1240.7 L1361.5,1237.2 L1363.5,1233.8 L1365.5,1230.4 L1367.5,1227.0 L1369.5,1223.6 L1371.5,1220.3 L1373.5,1216.9 L1375.5,1213.5 L1377.5,1210.2 L1379.5,1206.8 L1381.5,1203.5 L1383.5,1200.2 L1385.5,1197.0 L1387.5,1193.7 L1389.5,1190.5 L1391.5,1187.3 L1393.5,1184.1 L1395.5,1181.0 L1397.5,1177.8 L1399.5,1174.7 L1401.5,1171.7 L1403.5,1168.7 L1405.5,1165.7 L1407.5,1162.7 L1409.5,1159.8 L1411.5,1157.0 L1413.5,1154.1 L1415.5,1151.3 L1417.5,1148.6 L1419.5,1145.9 L1421.5,1143.3 L1423.5,1140.7 L1425.5,1138.1 L1427.5,1135.6 L1429.5,1133.2 L1431.5,1130.8 L1433.5,1128.5 L1435.5,1126.2 L1437.5,1124.0 L1439.5,1121.9 L1441.5,1119.8 L1443.5,1117.8 L1445.5,1115.8 L1447.5,1113.9 L1449.5,1112.1 L1451.5,1110.3 L1453.5,1108.7 L1455.5,1107.0 L1457.5,1105.5 L1459.5,1104.0 L1461.5,1102.6 L1463.5,1101.3 L1465.5,1100.0 L1467.5,1098.9 L1469.5,1097.8 L1471.5,1096.7 L1473.5,1095.8 L1475.5,1094.9 L1477.5,1094.1 L1479.5,1093.4 L1481.5,1092.8 L1483.5,1092.2 L1485.5,1091.8 L1487.5,1091.4 L1489.5,1091.1 L1491.5,1090.8 L1493.5,1090.7 L1495.5,1090.6 L1497.5,1090.7 L1499.5,1090.8 L1501.5,1090.9 L1503.5,1091.2 L1505.5,1091.6 L1507.5,1092.0 L1509.5,1092.5 L1511.5,1093.1 L1513.5,1093.8 L1515.5,1094.5 L1517.5,1095.4 L1519.5,1096.3 L1521.5,1097.3 L1523.5,1098.4 L1525.5,1099.5 L1527.5,1100.8 L1529.5,1102.1 L1531.5,1103.5 L1533.5,1105.0 L1535.5,1106.5 L1537.5,1108.2 L1539.5,1109.9 L1541.5,1111.6 L1543.5,1113.5 L1545.5,1115.4 L1547.5,1117.4 L1549.5,1119.4 L1551.5,1121.6 L1553.5,1123.8 L1555.5,1126.0 L1557.5,1128.3 L1559.5,1130.7 L1561.5,1133.2 L1563.5,1135.7 L1565.5,1138.3 L1567.5,1140.9 L1569.5,1143.6 L1571.5,1146.4 L1573.5,1149.2 L1575.5,1152.1 L1577.5,1155.0 L1579.5,1157.9 L1581.5,1161.0 L1583.5,1164.0 L1585.5,1167.1 L1587.5,1170.3 L1589.5,1173.5 L1591.5,1176.7 L1593.5,1180.0 L1595.5,1183.3 L1597.5,1186.7 L1599.5,1190.1 L1601.5,1193.5 L1603.5,1197.0 L1605.5,1200.5 L1607.5,1204.0 L1609.5,1207.6 L1611.5,1211.2 L1613.5,1214.8 L1615.5,1218.4 L1617.5,1222.1 L1619.5,1225.7 L1621.5,1229.4 L1623.5,1233.1 L1625.5,1236.9 L1627.5,1240.6 L1629.5,1244.4 L1631.5,1248.1 L1633.5,1251.9 L1635.5,1255.7 L1637.5,1259.5 L1639.5,1263.3 L1641.5,1267.1 L1643.5,1270.9 L1645.5,1274.7 L1647.5,1278.5 L1649.5,1282.3 L1651.5,1286.1 L1653.5,1289.8 L1655.5,1293.6 L1657.5,1297.4 L1659.5,1301.2 L1661.5,1304.9 L1663.5,1308.7 L1665.5,1312.4 L1667.5,1316.1 L1669.5,1319.9 L1671.5,1323.5 L1673.5,1327.2 L1675.5,1330.9 L1677.5,1334.5 L1679.5,1338.1 L1681.5,1341.7 L1683.5,1345.3 L1685.5,1348.9 L1687.5,1352.4 L1689.5,1355.9 L1691.5,1359.4 L1693.5,1362.8 L1695.5,1366.3 L1697.5,1369.7 L1699.5,1373.0 L1701.5,1376.4 L1703.5,1379.7 L1705.5,1383.0 L1707.5,1386.2 L1709.5,1389.4 L1711.5,1392.6 L1713.5,1395.8 L1715.5,1398.9 L1717.5,1401.9 L1719.5,1405.0 L1721.5,1408.0 L1723.5,1411.0 L1725.5,1413.9 L1727.5,1416.8 L1729.5,1419.7 L1731.5,1422.5 L1733.5,1425.3 L1735.5,1428.1 L1737.5,1430.8 L1739.5,1433.5 L1741.5,1436.1 L1743.5,1438.8 L1745.5,1441.3 L1747.5,1443.9 L1749.5,1446.4 L1751.5,1448.8 L1753.5,1451.2 L1755.5,1453.6 L1757.5,1456.0 L1759.5,1458.3 L1761.5,1460.5 L1763.5,1462.8 L1765.5,1464.9 L1767.5,1467.1 L1769.5,1469.2 L1771.5,1471.3 L1773.5,1473.3 L1775.5,1475.3 L1777.5,1477.3 L1779.5,1479.2 L1781.5,1481.1 L1783.5,1483.0 L1785.5,1484.8 L1787.5,1486.6 L1789.5,1488.3 L1791.5,1490.0 L1793.5,1491.7 L1795.5,1493.4 L1797.5,1495.0 L1799.5,1496.6 L1801.5,1498.1 L1803.5,1499.6 L1805.5,1501.1 L1807.5,1502.5 L1809.5,1504.0 L1811.5,1505.3 L1813.5,1506.7 L1815.5,1508.0 L1817.5,1509.3 L1819.5,1510.6 L1821.5,1511.8 L1823.5,1513.0 L1825.5,1514.2 L1827.5,1515.3 L1829.5,1516.4 L1831.5,1517.5 L1833.5,1518.6 L1835.5,1519.6 L1837.5,1520.6 L1839.5,1521.6 L1841.5,1522.6 L1843.5,1523.5 L1845.5,1524.4 L1847.5,1525.3 L1849.5,1526.2 L1851.5,1527.0 L1853.5,1527.8 L1855.5,1528.6 L1857.5,1529.4 L1859.5,1530.2 L1861.5,1530.9 L1863.5,1531.6 L1865.5,1532.3 L1867.5,1533.0 L1869.5,1533.6 L1871.5,1534.2 L1873.5,1534.9 L1875.5,1535.5 L1877.5,1536.0 L1879.5,1536.6 L1881.5,1537.1 L1883.5,1537.7 L1885.5,1538.2 L1887.5,1538.7 L1889.5,1539.2 L1891.5,1539.6 L1893.5,1540.1 L1895.5,1540.5 L1897.5,1541.0 L1899.5,1541.4 L1901.5,1541.8 L1903.5,1542.1 L1905.5,1542.5 L1907.5,1542.9 L1909.5,1543.2 L1911.5,1543.6 L1913.5,1543.9 L1915.5,1544.2 L1917.5,1544.5 L1919.5,1544.8 L1921.5,1545.1 L1923.5,1545.4 L1925.5,1545.6 L1927.5,1545.9 L1929.5,1546.1 L1931.5,1546.4 L1933.5,1546.6 L1935.5,1546.8 L1937.5,1547.0 L1939.5,1547.2 L1941.5,1547.4 L1943.5,1547.6 L1945.5,1547.8 L1947.5,1548.0 L1949.5,1548.2 L1951.5,1548.3 L1953.5,1548.5 L1955.5,1548.7 L1957.5,1548.8 L1959.5,1548.9 L1961.5,1549.1 L1963.5,1549.2 L1965.5,1549.3 L1967.5,1549.5 L1969.5,1549.6 L1971.5,1549.7 L1973.5,1549.8 L1975.5,1549.9 L1977.5,1550.0 L1979.5,1550.1 L1981.5,1550.2 L1983.5,1550.3 L1985.5,1550.4 L1987.5,1550.4 L1989.5,1550.5 L1991.5,1550.6 L1993.5,1550.7 L1995.5,1550.7 L1997.5,1550.8 L1999.5,1550.9 L2001.5,1550.9 L2003.5,1551.0 L2005.5,1551.0 L2007.5,1551.1 L2009.5,1551.1 L2011.5,1551.2 L2013.5,1551.2 L2015.5,1551.3 L2017.5,1551.3 L2019.5,1551.4 L2021.5,1551.4 L2023.5,1551.4 L2025.5,1551.5 L2027.5,1551.5 L2029.5,1551.5 L2031.5,1551.6 L2033.5,1551.6 L2035.5,1551.6 L2037.5,1551.6 L2039.5,1551.7 L2041.5,1551.7 L2043.5,1551.7 L2045.5,1551.7 L2047.5,1551.8 L2049.5,1551.8 L2051.5,1551.8 L2053.5,1551.8"/>
<path stroke="#0000ff" d="M959.5,1479.8 L961.5,1479.8 L963.5,1479.9 L965.5,1479.9 L967.5,1480.0 L969.5,1480.0 L971.5,1480.0 L973.5,1480.1 L975.5,1480.1 L977.5,1480.1 L979.5,1480.2 L981.5,1480.2 L983.5,1480.2 L985.5,1480.2 L987.5,1480.2 L989.5,1480.2 L991.5,1480.2 L993.5,1480.2 L995.5,1480.2 L997.5,1480.2 L999.5,1480.2 L1001.5,1480.1 L1003.5,1480.1 L1005.5,1480.0 L1007.5,1480.0 L1009.5,1479.9 L1011.5,1479.8 L1013.5,1479.7 L1015.5,1479.6 L1017.5,1479.5 L1019.5,1479.4 L1021.5,1479.2 L1023.5,1479.0 L1025.5,1478.9 L1027.5,1478.7 L1029.5,1478.4 L1031.5,1478.2 L1033.5,1477.9 L1035.5,1477.6 L1037.5,1477.3 L1039.5,1477.0 L1041.5,1476.6 L1043.5,1476.2 L1045.5,1475.8 L1047.5,1475.4 L1049.5,1474.9 L1051.5,1474.3 L1053.5,1473.8 L1055.5,1473.2 L1057.5,1472.6 L1059.5,1471.9 L1061.5,1471.2 L1063.5,1470.4 L1065.5,1469.6 L1067.5,1468.8 L1069.5,1467.9 L1071.5,1467.0 L1073.5,1466.0 L1075.5,1464.9 L1077.5,1463.8 L1079.5,1462.7 L1081.5,1461.5 L1083.5,1460.2 L1085.5,1458.9 L1087.5,1457.5 L1089.5,1456.0 L1091.5,1454.5 L1093.5,1452.9 L1095.5,1451.2 L1097.5,1449.5 L1099.5,1447.7 L1101.5,1445.8 L1103.5,1443.9 L1105.5,1441.9 L1107.5,1439.8 L1109.5,1437.6 L1111.5,1435.4 L1113.5,1433.0 L1115.5,1430.6 L1117.5,1428.1 L1119.5,1425.6 L1121.5,1422.9 L1123.5,1420.2 L1125.5,1417.4 L1127.5,1414.5 L1129.5,1411.5 L1131.5,1408.5 L1133.5,1405.3 L1135.5,1402.1 L1137.5,1398.8 L1139.5,1395.5 L1141.5,1392.0 L1143.5,1388.5 L1145.5,1384.9 L1147.5,1381.3 L1149.5,1377.5 L1151.5,1373.7 L1153.5,1369.9 L1155.5,1365.9 L1157.5,1362.0 L1159.5,1357.9 L1161.5,1353.8 L1163.5,1349.7 L1165.5,1345.5 L1167.5,1341.2 L1169.5,1337.0 L1171.5,1332.6 L1173.5,1328.3 L1175.5,1323.9 L1177.5,1319.5 L1179.5,1315.1 L1181.5,1310.7 L1183.5,1306.2 L1185.5,1301.8 L1187.5,1297.3 L1189.5,1292.9 L1191.5,1288.5 L1193.5,1284.1 L1195.5,1279.7 L1197.5,1275.3 L1199.5,1271.0 L1201.5,1266.7 L1203.5,1262.5 L1205.5,1258.3 L1207.5,1254.2 L1209.5,1250.2 L1211.5,1246.2 L1213.5,1242.3 L1215.5,1238.4 L1217.5,1234.7 L1219.5,1231.1 L1221.5,1227.5 L1223.5,1224.1 L1225.5,1220.8 L1227.5,1217.6 L1229.5,1214.5 L1231.5,1211.5 L1233.5,1208.7 L1235.5,1206.0 L1237.5,1203.4 L1239.5,1201.0 L1241.5,1198.8 L1243.5,1196.7 L1245.5,1194.8 L1247.5,1193.0 L1249.5,1191.4 L1251.5,1189.9 L1253.5,1188.6 L1255.5,1187.5 L1257.5,1186.6 L1259.5,1185.9 L1261.5,1185.3 L1263.5,1184.9 L1265.5,1184.7 L1267.5,1184.7 L1269.5,1184.8 L1271.5,1185.1 L1273.5,1185.7 L1275.5,1186.4 L1277.5,1187.2 L1279.5,1188.3 L1281.5,1189.5 L1283.5,1191.0 L1285.5,1192.6 L1287.5,1194.3 L1289.5,1196.2 L1291.5,1198.3 L1293.5,1200.6 L1295.5,1203.0 L1297.5,1205.6 L1299.5,1208.3 L1301.5,1211.2 L1303.5,1214.2 L1305.5,1217.4 L1307.5,1220.7 L1309.5,1224.1 L1311.5,1227.7 L1313.5,1231.3 L1315.5,1235.1 L1317.5,1239.0 L1319.5,1243.0 L1321.5,1247.1 L1323.5,1251.3 L1325.5,1255.5 L1327.5,1259.9 L1329.5,1264.3 L1331.5,1268.8 L1333.5,1273.3 L1335.5,1278.0 L1337.5,1282.6 L1339.5,1287.3 L1341.5,1292.0 L1343.5,1296.8 L1345.5,1301.6 L1347.5,1306.4 L1349.5,1311.3 L1351.5,1316.1 L1353.5,1320.9 L1355.5,1325.8 L1357.5,1330.6 L1359.5,1335.5 L1361.5,1340.3 L1363.5,1345.1 L1365.5,1349.8 L1367.5,1354.6 L1369.5,1359.3 L1371.5,1363.9 L1373.5,1368.5 L1375.5,1373.1 L1377.5,1377.6 L1379.5,1382.1 L1381.5,1386.5 L1383.5,1390.9 L1385.5,1395.2 L1387.5,1399.4 L1389.5,1403.6 L1391.5,1407.7 L1393.5,1411.7 L1395.5,1415.6 L1397.5,1419.5 L1399.5,1423.3 L1401.5,1427.0 L1403.5,1430.7 L1405.5,1434.3 L1407.5,1437.8 L1409.5,1441.2 L1411.5,1444.5 L1413.5,1447.7 L1415.5,1450.9 L1417.5,1454.0 L1419.5,1457.0 L1421.5,1459.9 L1423.5,1462.8 L1425.5,1465.5 L1427.5,1468.2 L1429.5,1470.8 L1431.5,1473.4 L1433.5,1475.8 L1435.5,1478.2 L1437.5,1480.5 L1439.5,1482.8 L1441.5,1484.9 L1443.5,1487.0 L1445.5,1489.0 L1447.5,1491.0 L1449.5,1492.9 L1451.5,1494.7 L1453.5,1496.5 L1455.5,1498.2 L1457.5,1499.8 L1459.5,1501.4 L1461.5,1502.9 L1463.5,1504.4 L1465.5,1505.8 L1467.5,1507.2 L1469.5,1508.5 L1471.5,1509.7 L1473.5,1510.9 L1475.5,1512.1 L1477.5,1513.2 L1479.5,1514.3 L1481.5,1515.4 L1483.5,1516.4 L1485.5,1517.3 L1487.5,1518.2 L1489.5,1519.1 L1491.5,1520.0 L1493.5,1520.8 L1495.5,1521.6 L1497.5,1522.4 L1499.5,1523.1 L1501.5,1523.8 L1503.5,1524.5 L1505.5,1525.1 L1507.5,1525.8 L1509.5,1526.4 L1511.5,1526.9 L1513.5,1527.5 L1515.5,1528.1 L1517.5,1528.6 L1519.5,1529.1 L1521.5,1529.6 L1523.5,1530.1 L1525.5,1530.5 L1527.5,1531.0 L1529.5,1531.4 L1531.5,1531.8 L1533.5,1532.2 L1535.5,1532.6 L1537.5,1533.0 L1539.5,1533.3 L1541.5,1533.7 L1543.5,1534.0 L1545.5,1534.4 L1547.5,1534.7 L1549.5,1535.0 L1551.5,1535.3 L1553.5,1535.7 L1555.5,1536.0 L1557.5,1536.2 L1559.5,1536.5 L1561.5,1536.8 L1563.5,1537.1 L1565.5,1537.4 L1567.5,1537.6 L1569.5,1537.9 L1571.5,1538.1 L1573.5,1538.4 L1575.5,1538.6 L1577.5,1538.9 L1579.5,1539.1"/>
<path stroke="#ff00ff" d="M743.5,1477.9 L745.5,1477.8 L747.5,1477.8 L749.5,1477.8 L751.5,1477.7 L753.5,1477.7 L755.5,1477.7 L757.5,1477.6 L759.5,1477.6 L761.5,1477.5 L763.5,1477.4 L765.5,1477.4 L767.5,1477.3 L769.5,1477.2 L771.5,1477.2 L773.5,1477.1 L775.5,1477.0 L777.5,1476.9 L779.5,1476.8 L781.5,1476.7 L783.5,1476.5 L785.5,1476.4 L787.5,1476.3 L789.5,1476.1 L791.5,1476.0 L793.5,1475.8 L795.5,1475.6 L797.5,1475.4 L799.5,1475.2 L801.5,1475.0 L803.5,1474.8 L805.5,1474.5 L807.5,1474.3 L809.5,1474.0 L811.5,1473.7 L813.5,1473.4 L815.5,1473.1 L817.5,1472.7 L819.5,1472.4 L821.5,1472.0 L823.5,1471.6 L825.5,1471.1 L827.5,1470.7 L829.5,1470.2 L831.5,1469.7 L833.5,1469.2 L835.5,1468.6 L837.5,1468.0 L839.5,1467.4 L841.5,1466.8 L843.5,1466.1 L845.5,1465.4 L847.5,1464.6 L849.5,1463.8 L851.5,1463.0 L853.5,1462.2 L855.5,1461.3 L857.5,1460.3 L859.5,1459.3 L861.5,1458.3 L863.5,1457.3 L865.5,1456.1 L867.5,1455.0 L869.5,1453.8 L871.5,1452.5 L873.5,1451.2 L875.5,1449.9 L877.5,1448.5 L879.5,1447.0 L881.5,1445.5 L883.5,1444.0 L885.5,1442.4 L887.5,1440.7 L889.5,1439.0 L891.5,1437.2 L893.5,1435.4 L895.5,1433.5 L897.5,1431.5 L899.5,1429.5 L901.5,1427.4 L903.5,1425.3 L905.5,1423.1 L907.5,1420.9 L909.5,1418.6 L911.5,1416.3 L913.5,1413.8 L915.5,1411.4 L917.5,1408.9 L919.5,1406.3 L921.5,1403.6 L923.5,1401.0 L925.5,1398.2 L927.5,1395.4 L929.5,1392.6 L931.5,1389.7 L933.5,1386.8 L935.5,1383.8 L937.5,1380.8 L939.5,1377.8 L941.5,1374.7 L943.5,1371.5 L945.5,1368.4 L947.5,1365.2 L949.5,1362.0 L951.5,1358.7 L953.5,1355.5 L955.5,1352.2 L957.5,1348.9 L959.5,1345.6 L961.5,1342.3 L963.5,1339.0 L965.5,1335.7 L967.5,1332.3 L969.5,1329.0 L971.5,1325.7 L973.5,1322.5 L975.5,1319.2 L977.5,1315.9 L979.5,1312.7 L981.5,1309.6 L983.5,1306.4 L985.5,1303.3 L987.5,1300.2 L989.5,1297.2 L991.5,1294.3 L993.5,1291.4 L995.5,1288.5 L997.5,1285.8 L999.5,1283.0 L1001.5,1280.4 L1003.5,1277.9 L1005.5,1275.4 L1007.5,1273.0 L1009.5,1270.7 L1011.5,1268.5 L1013.5,1266.4 L1015.5,1264.4 L1017.5,1262.5 L1019.5,1260.7 L1021.5,1259.0 L1023.5,1257.4 L1025.5,1256.0 L1027.5,1254.6 L1029.5,1253.4 L1031.5,1252.3 L1033.5,1251.4 L1035.5,1250.5 L1037.5,1249.8 L1039.5,1249.2 L1041.5,1248.8 L1043.5,1248.4 L1045.5,1248.2 L1047.5,1248.2 L1049.5,1248.2 L1051.5,1248.4 L1053.5,1248.8 L1055.5,1249.2 L1057.5,1249.8 L1059.5,1250.6 L1061.5,1251.4 L1063.5,1252.4 L1065.5,1253.5 L1067.5,1254.8 L1069.5,1256.1 L1071.5,1257.6 L1073.5,1259.2 L1075.5,1260.9 L1077.5,1262.8 L1079.5,1264.7 L1081.5,1266.8 L1083.5,1268.9 L1085.5,1271.2 L1087.5,1273.6 L1089.5,1276.0 L1091.5,1278.6 L1093.5,1281.2 L1095.5,1283.9 L1097.5,1286.7 L1099.5,1289.6 L1101.5,1292.5 L1103.5,1295.6 L1105.5,1298.6 L1107.5,1301.8 L1109.5,1305.0 L1111.5,1308.2 L1113.5,1311.5 L1115.5,1314.8 L1117.5,1318.2 L1119.5,1321.6 L1121.5,1325.1 L1123.5,1328.5 L1125.5,1332.0 L1127.5,1335.5 L1129.5,1339.0 L1131.5,1342.5 L1133.5,1346.1 L1135.5,1349.6 L1137.5,1353.1 L1139.5,1356.6 L1141.5,1360.1 L1143.5,1363.6 L1145.5,1367.1 L1147.5,1370.6 L1149.5,1374.0 L1151.5,1377.4 L1153.5,1380.8 L1155.5,1384.2 L1157.5,1387.5 L1159.5,1390.8 L1161.5,1394.0 L1163.5,1397.2 L1165.5,1400.4 L1167.5,1403.5 L1169.5,1406.6 L1171.5,1409.6 L1173.5,1412.6 L1175.5,1415.5 L1177.5,1418.4 L1179.5,1421.2 L1181.5,1424.0 L1183.5,1426.7 L1185.5,1429.3 L1187.5,1431.9 L1189.5,1434.5 L1191.5,1437.0 L1193.5,1439.4 L1195.5,1441.8 L1197.5,1444.1 L1199.5,1446.3 L1201.5,1448.5 L1203.5,1450.7 L1205.5,1452.8 L1207.5,1454.8 L1209.5,1456.8 L1211.5,1458.7 L1213.5,1460.6 L1215.5,1462.4 L1217.5,1464.2 L1219.5,1465.9 L1221.5,1467.6 L1223.5,1469.2 L1225.5,1470.7 L1227.5,1472.2 L1229.5,1473.7 L1231.5,1475.1 L1233.5,1476.5 L1235.5,1477.8 L1237.5,1479.1 L1239.5,1480.4 L1241.5,1481.6 L1243.5,1482.7 L1245.5,1483.9 L1247.5,1484.9 L1249.5,1486.0 L1251.5,1487.0 L1253.5,1488.0 L1255.5,1488.9 L1257.5,1489.8 L1259.5,1490.7 L1261.5,1491.6 L1263.5,1492.4 L1265.5,1493.2 L1267.5,1494.0 L1269.5,1494.7 L1271.5,1495.5 L1273.5,1496.2 L1275.5,1496.8 L1277.5,1497.5 L1279.5,1498.1 L1281.5,1498.7 L1283.5,1499.3 L1285.5,1499.9 L1287.5,1500.4 L1289.5,1501.0 L1291.5,1501.5 L1293.5,1502.0 L1295.5,1502.5 L1297.5,1503.0 L1299.5,1503.5 L1301.5,1503.9 L1303.5,1504.4 L1305.5,1504.8 L1307.5,1505.2 L1309.5,1505.6 L1311.5,1506.0 L1313.5,1506.4 L1315.5,1506.8 L1317.5,1507.1 L1319.5,1507.5 L1321.5,1507.9 L1323.5,1508.2 L1325.5,1508.6 L1327.5,1508.9 L1329.5,1509.2 L1331.5,1509.5 L1333.5,1509.9 L1335.5,1510.2 L1337.5,1510.5 L1339.5,1510.8 L1341.5,1511.1 L1343.5,1511.4 L1345.5,1511.7 L1347.5,1511.9 L1349.5,1512.2 L1351.5,1512.5 L1353.5,1512.8 L1355.5,1513.1"/>
<path stroke="#008000" d="M278.5,784.1 L295.1,790.7 L306.5,777.9 L318.4,790.7 L329.8,780.7 L341.2,811.8 L352.6,784.7 L364.0,806.9 L386.8,810.4 L398.7,792.1 L421.5,812.6 L433.2,804.1 L444.6,811.8 L467.9,799.0 L479.3,811.2 L490.7,815.5 L513.5,806.1 L524.9,812.1 L536.3,811.2 L548.3,822.0 L559.9,810.4 L571.9,824.6 L583.3,814.6 L582.5,815.3 L584.5,815.3 L586.5,815.3 L588.5,815.3 L590.5,815.3 L592.5,815.3 L594.5,815.3 L596.5,815.3 L598.5,815.3 L600.5,815.3 L602.5,815.3 L604.5,815.3 L606.5,815.3 L608.5,815.3 L610.5,815.3 L612.5,815.3 L614.5,815.3 L616.5,815.3 L618.5,815.3 L620.5,815.3 L622.5,815.3 L624.5,815.3 L626.5,815.3 L628.5,815.3 L630.5,815.3 L632.5,815.3 L634.5,815.3 L636.5,815.3 L638.5,815.3 L640.5,815.3 L642.5,815.3 L644.5,815.3 L646.5,815.3 L648.5,815.3 L650.5,815.3 L652.5,815.3 L654.5,815.3 L656.5,815.3 L658.5,815.3 L660.5,815.3 L662.5,815.3 L664.5,815.3 L666.5,815.3 L668.5,815.3 L670.5,815.3 L672.5,815.3 L674.5,815.3 L676.5,815.3 L678.5,815.3 L680.5,815.3 L682.5,815.3 L684.5,815.3 L686.5,815.3 L688.5,815.3 L690.5,815.3 L692.5,815.3 L694.5,815.3 L696.5,815.3 L698.5,815.3 L700.5,815.3 L702.5,815.3 L704.5,815.3 L706.5,815.3 L708.5,815.3 L710.5,815.3 L712.5,815.3 L714.5,815.3 L716.5,815.3 L718.5,815.3 L720.5,815.3 L722.5,815.3 L724.5,815.3 L726.5,815.3 L728.5,815.3 L730.5,815.3 L732.5,815.3 L734.5,815.3 L736.5,815.3 L738.5,815.3 L740.5,815.3 L742.5,815.3 L744.5,815.3 L746.5,815.3 L748.5,815.3 L750.5,815.3 L752.5,815.3 L754.5,815.3 L756.5,815.3 L758.5,815.3 L760.5,815.3 L762.5,815.3 L764.5,815.3 L766.5,815.3 L768.5,815.3 L770.5,815.3 L772.5,815.3 L774.5,815.3 L776.5,815.3 L778.5,815.3 L780.5,815.3 L782.5,815.3 L784.5,815.3 L786.5,815.3 L788.5,815.3 L790.5,815.3 L792.5,815.3 L794.5,815.3 L796.5,815.3 L798.5,815.3 L800.5,815.3 L802.5,815.3 L804.5,815.3 L806.5,815.3 L808.5,815.3 L810.5,815.3 L812.5,815.3 L814.5,815.3 L816.5,815.3 L818.5,815.3 L820.5,815.3 L822.5,815.3 L824.5,815.3 L826.5,815.3 L828.5,815.3 L830.5,815.3 L832.5,815.3 L834.5,815.3 L836.5,815.3 L838.5,815.3 L840.5,815.3 L842.5,815.3 L844.5,815.3 L846.5,815.3 L848.5,815.3 L850.5,815.3 L852.5,815.3 L854.5,815.3 L856.5,815.3 L858.5,815.3 L860.5,815.3 L862.5,815.3 L864.5,815.3 L866.5,815.3 L868.5,815.4 L870.5,815.4 L872.5,815.4 L874.5,815.4 L876.5,815.4 L878.5,815.4 L880.5,815.4 L882.5,815.4 L884.5,815.4 L886.5,815.4 L888.5,815.4 L890.5,815.4 L892.5,815.4 L894.5,815.4 L896.5,815.5 L898.5,815.5 L900.5,815.5 L902.5,815.5 L904.5,815.5 L906.5,815.5 L908.5,815.5 L910.5,815.6 L912.5,815.6 L914.5,815.6 L916.5,815.6 L918.5,815.6 L920.5,815.6 L922.5,815.7 L924.5,815.7 L926.5,815.7 L928.5,815.7 L930.5,815.8 L932.5,815.8 L934.5,815.8 L936.5,815.8 L938.5,815.9 L940.5,815.9 L942.5,815.9 L944.5,816.0 L946.5,816.0 L948.5,816.1 L950.5,816.1 L952.5,816.1 L954.5,816.2 L956.5,816.2 L958.5,816.3 L960.5,816.3 L962.5,816.4 L964.5,816.4 L966.5,816.5 L968.5,816.5 L970.5,816.6 L972.5,816.6 L974.5,816.7 L976.5,816.8 L978.5,816.8 L980.5,816.9 L982.5,817.0 L984.5,817.0 L986.5,817.1 L988.5,817.2 L990.5,817.3 L992.5,817.4 L994.5,817.5 L996.5,817.5 L998.5,817.6 L1000.5,817.7 L1002.5,817.8 L1004.5,817.9 L1006.5,818.0 L1008.5,818.1 L1010.5,818.2 L1012.5,818.3 L1014.5,818.5 L1016.5,818.6 L1018.5,818.7 L1020.5,818.8 L1022.5,818.9 L1024.5,819.1 L1026.5,819.2 L1028.5,819.3 L1030.5,819.5 L1032.5,819.6 L1034.5,819.8 L1036.5,819.9 L1038.5,820.0 L1040.5,820.2 L1042.5,820.4 L1044.5,820.5 L1046.5,820.7 L1048.5,820.8 L1050.5,821.0 L1052.5,821.2 L1054.5,821.3 L1056.5,821.5 L1058.5,821.7 L1060.5,821.9 L1062.5,822.0 L1064.5,822.2 L1066.5,822.4 L1068.5,822.6 L1070.5,822.8 L1072.5,823.0 L1074.5,823.2 L1076.5,823.4 L1078.5,823.6 L1080.5,823.8 L1082.5,824.0 L1084.5,824.2 L1086.5,824.4 L1088.5,824.6 L1090.5,824.8 L1092.5,825.0 L1094.5,825.3 L1096.5,825.5 L1098.5,825.7 L1100.5,825.9 L1102.5,826.1 L1104.5,826.3 L1106.5,826.6 L1108.5,826.8 L1110.5,827.0 L1112.5,827.3 L1114.5,827.5 L1116.5,827.7 L1118.5,827.9 L1120.5,828.2 L1122.5,828.4 L1124.5,828.6 L1126.5,828.9 L1128.5,829.1 L1130.5,829.3 L1132.5,829.6 L1134.5,829.8 L1136.5,830.0 L1138.5,830.3 L1140.5,830.5 L1142.5,830.7 L1144.5,831.0 L1146.5,831.2 L1148.5,831.4 L1150.5,831.7 L1152.5,831.9 L1154.5,832.1 L1156.5,832.4 L1158.5,832.6 L1160.5,832.8 L1162.5,833.1 L1164.5,833.3 L1166.5,833.5 L1168.5,833.8 L1170.5,834.0 L1172.5,834.3 L1174.5,834.5 L1176.5,834.7 L1178.5,835.0 L1180.5,835.2 L1182.5,835.4 L1184.5,835.7 L1186.5,835.9 L1188.5,836.1 L1190.5,836.4 L1192.5,836.6 L1194.5,836.8 L1196.5,837.1 L1198.5,837.3 L1200.5,837.5 L1202.5,837.8 L1204.5,838.0 L1206.5,838.3 L1208.5,838.5 L1210.5,838.7 L1212.5,839.0 L1214.5,839.2 L1216.5,839.5 L1218.5,839.7 L1220.5,840.0 L1222.5,840.2 L1224.5,840.4 L1226.5,840.7 L1228.5,840.9 L1230.5,841.2 L1232.5,841.4 L1234.5,841.7 L1236.5,842.0 L1238.5,842.2 L1240.5,842.5 L1242.5,842.7 L1244.5,843.0 L1246.5,843.3 L1248.5,843.5 L1250.5,843.8 L1252.5,844.1 L1254.5,844.3 L1256.5,844.6 L1258.5,844.9 L1260.5,845.2 L1262.5,845.4 L1264.5,845.7 L1266.5,846.0 L1268.5,846.3 L1270.5,846.6 L1272.5,846.9 L1274.5,847.2 L1276.5,847.5 L1278.5,847.8 L1280.5,848.1 L1282.5,848.4 L1284.5,848.7 L1286.5,849.0 L1288.5,849.3 L1290.5,849.6 L1292.5,849.9 L1294.5,850.2 L1296.5,850.5 L1298.5,850.8 L1300.5,851.2 L1302.5,851.5 L1304.5,851.8 L1306.5,852.1 L1308.5,852.4 L1310.5,852.8 L1312.5,853.1 L1314.5,853.4 L1316.5,853.7 L1318.5,854.1 L1320.5,854.4 L1322.5,854.7 L1324.5,855.1 L1326.5,855.4 L1328.5,855.7 L1330.5,856.1 L1332.5,856.4 L1334.5,856.7 L1336.5,857.1 L1338.5,857.4 L1340.5,857.8 L1342.5,858.1 L1344.5,858.4 L1346.5,858.8 L1348.5,859.1 L1350.5,859.4 L1352.5,859.8 L1354.5,860.1 L1356.5,860.4 L1358.5,860.8 L1360.5,861.1 L1362.5,861.4 L1364.5,861.7 L1366.5,862.1 L1368.5,862.4 L1370.5,862.7 L1372.5,863.0 L1374.5,863.4 L1376.5,863.7 L1378.5,864.0 L1380.5,864.3 L1382.5,864.6 L1384.5,864.9 L1386.5,865.2 L1388.5,865.5 L1390.5,865.8 L1392.5,866.1 L1394.5,866.4 L1396.5,866.7 L1398.5,867.0 L1400.5,867.3 L1402.5,867.6 L1404.5,867.9 L1406.5,868.2 L1408.5,868.4 L1410.5,868.7 L1412.5,869.0 L1414.5,869.3 L1416.5,869.5 L1418.5,869.8 L1420.5,870.1 L1422.5,870.3 L1424.5,870.6 L1426.5,870.8 L1428.5,871.1 L1430.5,871.3 L1432.5,871.6 L1434.5,871.8 L1436.5,872.0 L1438.5,872.3 L1440.5,872.5 L1442.5,872.7 L1444.5,873.0 L1446.5,873.2 L1448.5,873.4 L1450.5,873.6 L1452.5,873.8 L1454.5,874.0 L1456.5,874.3 L1458.5,874.5 L1460.5,874.7 L1462.5,874.9 L1464.5,875.1 L1466.5,875.3 L1468.5,875.4 L1470.5,875.6 L1472.5,875.8 L1474.5,876.0 L1476.5,876.2 L1478.5,876.4 L1480.5,876.6 L1482.5,876.7 L1484.5,876.9 L1486.5,877.1 L1488.5,877.2 L1490.5,877.4 L1492.5,877.6 L1494.5,877.7 L1496.5,877.9 L1498.5,878.1 L1500.5,878.2 L1502.5,878.4 L1504.5,878.5 L1506.5,878.7 L1508.5,878.8 L1510.5,879.0 L1512.5,879.1 L1514.5,879.3 L1516.5,879.4 L1518.5,879.6 L1520.5,879.7 L1522.5,879.8 L1524.5,880.0 L1526.5,880.1 L1528.5,880.2 L1530.5,880.4 L1532.5,880.5 L1534.5,880.6 L1536.5,880.8 L1538.5,880.9 L1540.5,881.0 L1542.5,881.2 L1544.5,881.3 L1546.5,881.4 L1548.5,881.5 L1550.5,881.6 L1552.5,881.8 L1554.5,881.9 L1556.5,882.0 L1558.5,882.1 L1560.5,882.2 L1562.5,882.4 L1564.5,882.5 L1566.5,882.6 L1568.5,882.7 L1570.5,882.8 L1572.5,882.9 L1574.5,883.0 L1576.5,883.1 L1578.5,883.2 L1580.5,883.4 L1582.5,883.5 L1584.5,883.6 L1586.5,883.7 L1588.5,883.8 L1590.5,883.9 L1592.5,884.0 L1594.5,884.1 L1596.5,884.2 L1598.5,884.3 L1600.5,884.4 L1602.5,884.5 L1604.5,884.6 L1606.5,884.7 L1608.5,884.8 L1610.5,884.9 L1612.5,884.9 L1614.5,885.0 L1616.5,885.1 L1618.5,885.2 L1620.5,885.3 L1622.5,885.4 L1624.5,885.5 L1626.5,885.6 L1628.5,885.7 L1630.5,885.7 L1632.5,885.8 L1634.5,885.9 L1636.5,886.0 L1638.5,886.1 L1640.5,886.2 L1642.5,886.2 L1644.5,886.3 L1646.5,886.4 L1648.5,886.5 L1650.5,886.5 L1652.5,886.6 L1654.5,886.7 L1656.5,886.8 L1658.5,886.8 L1660.5,886.9 L1662.5,887.0 L1664.5,887.1 L1666.5,887.1 L1668.5,887.2 L1670.5,887.3 L1672.5,887.3 L1674.5,887.4 L1676.5,887.5 L1678.5,887.5 L1680.5,887.6 L1682.5,887.6 L1684.5,887.7 L1686.5,887.8 L1688.5,887.8 L1690.5,887.9 L1692.5,887.9 L1694.5,888.0 L1696.5,888.1 L1698.5,888.1 L1700.5,888.2 L1702.5,888.2 L1704.5,888.3 L1706.5,888.3 L1708.5,888.4 L1710.5,888.4 L1712.5,888.5 L1714.5,888.5 L1716.5,888.6 L1718.5,888.6 L1720.5,888.7 L1722.5,888.7 L1724.5,888.7 L1726.5,888.8 L1728.5,888.8 L1730.5,888.9 L1732.5,888.9 L1734.5,888.9 L1736.5,889.0 L1738.5,889.0 L1740.5,889.1 L1742.5,889.1 L1744.5,889.1 L1746.5,889.2 L1748.5,889.2 L1750.5,889.2 L1752.5,889.3 L1754.5,889.3 L1756.5,889.3 L1758.5,889.4 L1760.5,889.4 L1762.5,889.4 L1764.5,889.5 L1766.5,889.5 L1768.5,889.5 L1770.5,889.5 L1772.5,889.6 L1774.5,889.6 L1776.5,889.6 L1778.5,889.7 L1780.5,889.7 L1782.5,889.7 L1784.5,889.7 L1786.5,889.7 L1788.5,889.8 L1790.5,889.8 L1792.5,889.8 L1794.5,889.8 L1796.5,889.9 L1798.5,889.9 L1800.5,889.9 L1802.5,889.9 L1804.5,889.9 L1806.5,889.9 L1808.5,890.0 L1810.5,890.0 L1812.5,890.0 L1814.5,890.0 L1816.5,890.0 L1818.5,890.0 L1820.5,890.1 L1822.5,890.1 L1824.5,890.1 L1826.5,890.1 L1828.5,890.1 L1830.5,890.1 L1832.5,890.1 L1834.5,890.2 L1836.5,890.2 L1838.5,890.2 L1840.5,890.2 L1842.5,890.2 L1844.5,890.2 L1846.5,890.2 L1848.5,890.2 L1850.5,890.2 L1852.5,890.2 L1854.5,890.3 L1856.5,890.3 L1858.5,890.3 L1860.5,890.3 L1862.5,890.3 L1864.5,890.3 L1866.5,890.3 L1868.5,890.3 L1870.5,890.3 L1872.5,890.3 L1874.5,890.3 L1876.5,890.3 L1878.5,890.3 L1880.5,890.4 L1882.5,890.4 L1884.5,890.4 L1886.5,890.4 L1888.5,890.4 L1890.5,890.4 L1892.5,890.4 L1894.5,890.4 L1896.5,890.4 L1898.5,890.4 L1900.5,890.4 L1902.5,890.4 L1904.5,890.4 L1906.5,890.4 L1908.5,890.4 L1910.5,890.4 L1912.5,890.4 L1914.5,890.4 L1916.5,890.4 L1918.5,890.4 L1920.5,890.4 L1922.5,890.4 L1924.5,890.4 L1926.5,890.4 L1928.5,890.4 L1930.5,890.5 L1932.5,890.5 L1934.5,890.5 L1936.5,890.5 L1938.5,890.5 L1940.5,890.5 L1942.5,890.5 L1944.5,890.5 L1946.5,890.5 L1948.5,890.5 L1950.5,890.5 L1952.5,890.5 L1954.5,890.5 L1956.5,890.5 L1958.5,890.5 L1960.5,890.5 L1962.5,890.5 L1964.5,890.5 L1966.5,890.5 L1968.5,890.5 L1970.5,890.5 L1972.5,890.5 L1974.5,890.5 L1976.5,890.5 L1978.5,890.5 L1980.5,890.5 L1982.5,890.5 L1984.5,890.5 L1986.5,890.5 L1988.5,890.5 L1990.5,890.5 L1992.5,890.5 L1994.5,890.5 L1996.5,890.5 L1998.5,890.5 L2000.5,890.5 L2002.5,890.5 L2004.5,890.5 L2006.5,890.5 L2008.5,890.5 L2010.5,890.5 L2012.5,890.5 L2014.5,890.5 L2016.5,890.5 L2018.5,890.5 L2020.5,890.5 L2022.5,890.5 L2024.5,890.5 L2026.5,890.5 L2028.5,890.5 L2030.5,890.5 L2032.5,890.5 L2034.5,890.5 L2036.5,890.5 L2038.5,890.5 L2040.5,890.5 L2042.5,890.5 L2044.5,890.5 L2046.5,890.5 L2048.5,890.5 L2050.5,890.5 L2052.5,890.5 L2054.5,890.5 L2056.5,890.5 L2058.5,890.5 L2060.5,890.5 L2062.5,890.5 L2064.5,890.5 L2066.5,890.5 L2068.5,890.5 L2070.5,890.5 L2072.5,890.5 L2074.5,890.5 L2076.5,890.5 L2078.5,890.5 L2080.5,890.5 L2082.5,890.5 L2084.5,890.5 L2086.5,890.5 L2088.5,890.5 L2090.5,890.5 L2092.5,890.5 L2094.5,890.5 L2096.5,890.5 L2098.5,890.5 L2100.5,890.5 L2102.5,890.5 L2104.5,890.5 L2106.5,890.5 L2108.5,890.5 L2110.5,890.5 L2112.5,890.5 L2114.5,890.5 L2116.5,890.5 L2118.5,890.5 L2120.5,890.5 L2122.5,890.5 L2124.5,890.5 L2126.5,890.5 L2128.5,890.5 L2130.5,890.5 L2132.5,890.5 L2134.5,890.5 L2136.5,890.5 L2138.5,890.5 L2140.5,890.5 L2142.5,890.5 L2144.5,890.5 L2146.5,890.5 L2148.5,890.5 L2150.5,890.5 L2152.5,890.5 L2154.5,890.5 L2156.5,890.5 L2158.5,890.5 L2160.5,890.5 L2162.5,890.5 L2164.5,890.5 L2166.5,890.5 L2168.5,890.5 L2170.5,890.5 L2172.5,890.5 L2174.5,890.5 L2176.5,890.5 L2178.5,890.5 L2180.5,890.5 L2182.5,890.5 L2184.5,890.5 L2186.5,890.5 L2188.5,890.5 L2190.5,890.5 L2192.5,890.5 L2194.5,890.5 L2196.5,890.5 L2198.5,890.5 L2200.5,890.5 L2202.5,890.5 L2204.5,890.5 L2206.5,890.5 L2208.5,890.5 L2210.5,890.5 L2212.5,890.5 L2214.5,890.5 L2216.5,890.5 L2218.5,890.5 L2220.5,890.5 L2222.5,890.5 L2224.5,890.5 L2226.5,890.5 L2228.5,890.5 L2230.5,890.5 L2232.5,890.5 L2234.5,890.5 L2236.5,890.5 L2238.5,890.5 L2240.5,890.5 L2242.5,890.5 L2244.5,890.5 L2246.5,890.5 L2248.5,890.5 L2250.5,890.5 L2252.5,890.5 L2254.5,890.5 L2256.5,890.5 L2258.5,890.5 L2260.5,890.5 L2262.5,890.5 L2264.5,890.5 L2266.5,890.5 L2268.5,890.5 L2270.5,890.5 L2272.5,890.5 L2274.5,890.5 L2276.5,890.5 L2278.5,890.5 L2280.5,890.5 L2282.5,890.5 L2284.5,890.5 L2286.5,890.5 L2288.5,890.5 L2290.5,890.5 L2292.5,890.5 L2294.5,890.5 L2296.5,890.5 L2298.5,890.5 L2300.5,890.5 L2302.5,890.5 L2304.5,890.5 L2306.5,890.5 L2308.5,890.5 L2310.5,890.5 L2312.5,890.5 L2314.5,890.5 L2316.5,890.5 L2318.5,890.5 L2320.5,890.5 L2321.1,890.3 L2332.5,879.9 L2342.9,899.6 L2350.2,900.1"/>
<path stroke="#008000" d="M277.5,1480.0 L283.8,1478.8 L306.2,1491.2 L317.5,1486.2 L328.8,1486.2 L340.0,1483.0 L351.2,1485.5 L362.5,1488.8 L373.8,1483.8 L386.2,1474.5 L397.5,1474.5 L410.0,1474.5 L421.2,1480.0 L432.5,1492.5 L443.8,1480.0 L455.0,1483.0 L466.2,1488.0 L477.5,1479.5 L477.5,1478.2 L479.5,1478.2 L481.5,1478.2 L483.5,1478.2 L485.5,1478.2 L487.5,1478.2 L489.5,1478.2 L491.5,1478.2 L493.5,1478.2 L495.5,1478.2 L497.5,1478.2 L499.5,1478.2 L501.5,1478.2 L503.5,1478.2 L505.5,1478.2 L507.5,1478.2 L509.5,1478.2 L511.5,1478.2 L513.5,1478.2 L515.5,1478.2 L517.5,1478.2 L519.5,1478.2 L521.5,1478.2 L523.5,1478.2 L525.5,1478.2 L527.5,1478.2 L529.5,1478.2 L531.5,1478.2 L533.5,1478.2 L535.5,1478.2 L537.5,1478.2 L539.5,1478.2 L541.5,1478.2 L543.5,1478.2 L545.5,1478.2 L547.5,1478.2 L549.5,1478.2 L551.5,1478.2 L553.5,1478.2 L555.5,1478.2 L557.5,1478.2 L559.5,1478.2 L561.5,1478.2 L563.5,1478.2 L565.5,1478.2 L567.5,1478.2 L569.5,1478.2 L571.5,1478.2 L573.5,1478.2 L575.5,1478.2 L577.5,1478.2 L579.5,1478.2 L581.5,1478.2 L583.5,1478.2 L585.5,1478.2 L587.5,1478.2 L589.5,1478.2 L591.5,1478.2 L593.5,1478.2 L595.5,1478.2 L597.5,1478.2 L599.5,1478.2 L601.5,1478.2 L603.5,1478.2 L605.5,1478.2 L607.5,1478.2 L609.5,1478.2 L611.5,1478.2 L613.5,1478.2 L615.5,1478.2 L617.5,1478.2 L619.5,1478.2 L621.5,1478.2 L623.5,1478.2 L625.5,1478.2 L627.5,1478.2 L629.5,1478.2 L631.5,1478.2 L633.5,1478.2 L635.5,1478.2 L637.5,1478.2 L639.5,1478.2 L641.5,1478.2 L643.5,1478.2 L645.5,1478.2 L647.5,1478.2 L649.5,1478.2 L651.5,1478.2 L653.5,1478.2 L655.5,1478.2 L657.5,1478.2 L659.5,1478.2 L661.5,1478.2 L663.5,1478.2 L665.5,1478.2 L667.5,1478.2 L669.5,1478.2 L671.5,1478.2 L673.5,1478.2 L675.5,1478.2 L677.5,1478.2 L679.5,1478.2 L681.5,1478.2 L683.5,1478.2 L685.5,1478.2 L687.5,1478.2 L689.5,1478.2 L691.5,1478.2 L693.5,1478.2 L695.5,1478.2 L697.5,1478.2 L699.5,1478.2 L701.5,1478.2 L703.5,1478.2 L705.5,1478.2 L707.5,1478.2 L709.5,1478.2 L711.5,1478.2 L713.5,1478.2 L715.5,1478.2 L717.5,1478.2 L719.5,1478.2 L721.5,1478.2 L723.5,1478.2 L725.5,1478.2 L727.5,1478.2 L729.5,1478.2 L731.5,1478.2 L733.5,1478.2 L735.5,1478.2 L737.5,1478.2 L739.5,1478.2 L741.5,1478.2 L743.5,1478.2 L745.5,1478.2 L747.5,1478.2 L749.5,1478.2 L751.5,1478.2 L753.5,1478.2 L755.5,1478.2 L757.5,1478.2 L759.5,1478.2 L761.5,1478.2 L763.5,1478.2 L765.5,1478.2 L767.5,1478.2 L769.5,1478.2 L771.5,1478.2 L773.5,1478.2 L775.5,1478.2 L777.5,1478.2 L779.5,1478.2 L781.5,1478.2 L783.5,1478.2 L785.5,1478.2 L787.5,1478.2 L789.5,1478.2 L791.5,1478.2 L793.5,1478.2 L795.5,1478.2 L797.5,1478.2 L799.5,1478.2 L801.5,1478.2 L803.5,1478.2 L805.5,1478.2 L807.5,1478.2 L809.5,1478.2 L811.5,1478.3 L813.5,1478.3 L815.5,1478.3 L817.5,1478.3 L819.5,1478.3 L821.5,1478.3 L823.5,1478.3 L825.5,1478.3 L827.5,1478.3 L829.5,1478.3 L831.5,1478.3 L833.5,1478.3 L835.5,1478.3 L837.5,1478.3 L839.5,1478.3 L841.5,1478.3 L843.5,1478.3 L845.5,1478.3 L847.5,1478.3 L849.5,1478.3 L851.5,1478.3 L853.5,1478.4 L855.5,1478.4 L857.5,1478.4 L859.5,1478.4 L861.5,1478.4 L863.5,1478.4 L865.5,1478.4 L867.5,1478.4 L869.5,1478.4 L871.5,1478.5 L873.5,1478.5 L875.5,1478.5 L877.5,1478.5 L879.5,1478.5 L881.5,1478.5 L883.5,1478.5 L885.5,1478.6 L887.5,1478.6 L889.5,1478.6 L891.5,1478.6 L893.5,1478.7 L895.5,1478.7 L897.5,1478.7 L899.5,1478.7 L901.5,1478.8 L903.5,1478.8 L905.5,1478.8 L907.5,1478.8 L909.5,1478.9 L911.5,1478.9 L913.5,1478.9 L915.5,1479.0 L917.5,1479.0 L919.5,1479.0 L921.5,1479.1 L923.5,1479.1 L925.5,1479.2 L927.5,1479.2 L929.5,1479.3 L931.5,1479.3 L933.5,1479.4 L935.5,1479.4 L937.5,1479.5 L939.5,1479.5 L941.5,1479.6 L943.5,1479.6 L945.5,1479.7 L947.5,1479.7 L949.5,1479.8 L951.5,1479.9 L953.5,1479.9 L955.5,1480.0 L957.5,1480.1 L959.5,1480.1 L961.5,1480.2 L963.5,1480.3 L965.5,1480.4 L967.5,1480.4 L969.5,1480.5 L971.5,1480.6 L973.5,1480.7 L975.5,1480.8 L977.5,1480.9 L979.5,1480.9 L981.5,1481.0 L983.5,1481.1 L985.5,1481.2 L987.5,1481.3 L989.5,1481.4 L991.5,1481.5 L993.5,1481.6 L995.5,1481.7 L997.5,1481.8 L999.5,1481.9 L1001.5,1482.0 L1003.5,1482.2 L1005.5,1482.3 L1007.5,1482.4 L1009.5,1482.5 L1011.5,1482.6 L1013.5,1482.7 L1015.5,1482.8 L1017.5,1483.0 L1019.5,1483.1 L1021.5,1483.2 L1023.5,1483.3 L1025.5,1483.5 L1027.5,1483.6 L1029.5,1483.7 L1031.5,1483.8 L1033.5,1484.0 L1035.5,1484.1 L1037.5,1484.2 L1039.5,1484.3 L1041.5,1484.5 L1043.5,1484.6 L1045.5,1484.7 L1047.5,1484.9 L1049.5,1485.0 L1051.5,1485.1 L1053.5,1485.3 L1055.5,1485.4 L1057.5,1485.5 L1059.5,1485.7 L1061.5,1485.8 L1063.5,1486.0 L1065.5,1486.1 L1067.5,1486.2 L1069.5,1486.4 L1071.5,1486.5 L1073.5,1486.6 L1075.5,1486.8 L1077.5,1486.9 L1079.5,1487.0 L1081.5,1487.2 L1083.5,1487.3 L1085.5,1487.4 L1087.5,1487.6 L1089.5,1487.7 L1091.5,1487.8 L1093.5,1488.0 L1095.5,1488.1 L1097.5,1488.2 L1099.5,1488.4 L1101.5,1488.5 L1103.5,1488.6 L1105.5,1488.8 L1107.5,1488.9 L1109.5,1489.0 L1111.5,1489.2 L1113.5,1489.3 L1115.5,1489.4 L1117.5,1489.6 L1119.5,1489.7 L1121.5,1489.8 L1123.5,1490.0 L1125.5,1490.1 L1127.5,1490.2 L1129.5,1490.3 L1131.5,1490.5 L1133.5,1490.6 L1135.5,1490.7 L1137.5,1490.9 L1139.5,1491.0 L1141.5,1491.1 L1143.5,1491.3 L1145.5,1491.4 L1147.5,1491.5 L1149.5,1491.7 L1151.5,1491.8 L1153.5,1492.0 L1155.5,1492.1 L1157.5,1492.2 L1159.5,1492.4 L1161.5,1492.5 L1163.5,1492.7 L1165.5,1492.8 L1167.5,1492.9 L1169.5,1493.1 L1171.5,1493.2 L1173.5,1493.4 L1175.5,1493.5 L1177.5,1493.7 L1179.5,1493.8 L1181.5,1494.0 L1183.5,1494.1 L1185.5,1494.3 L1187.5,1494.5 L1189.5,1494.6 L1191.5,1494.8 L1193.5,1495.0 L1195.5,1495.1 L1197.5,1495.3 L1199.5,1495.5 L1201.5,1495.6 L1203.5,1495.8 L1205.5,1496.0 L1207.5,1496.2 L1209.5,1496.4 L1211.5,1496.5 L1213.5,1496.7 L1215.5,1496.9 L1217.5,1497.1 L1219.5,1497.3 L1221.5,1497.5 L1223.5,1497.7 L1225.5,1497.9 L1227.5,1498.1 L1229.5,1498.3 L1231.5,1498.5 L1233.5,1498.7 L1235.5,1498.9 L1237.5,1499.1 L1239.5,1499.4 L1241.5,1499.6 L1243.5,1499.8 L1245.5,1500.0 L1247.5,1500.2 L1249.5,1500.5 L1251.5,1500.7 L1253.5,1500.9 L1255.5,1501.1 L1257.5,1501.4 L1259.5,1501.6 L1261.5,1501.8 L1263.5,1502.1 L1265.5,1502.3 L1267.5,1502.5 L1269.5,1502.8 L1271.5,1503.0 L1273.5,1503.3 L1275.5,1503.5 L1277.5,1503.7 L1279.5,1504.0 L1281.5,1504.2 L1283.5,1504.5 L1285.5,1504.7 L1287.5,1505.0 L1289.5,1505.2 L1291.5,1505.5 L1293.5,1505.7 L1295.5,1506.0 L1297.5,1506.2 L1299.5,1506.5 L1301.5,1506.7 L1303.5,1507.0 L1305.5,1507.2 L1307.5,1507.5 L1309.5,1507.7 L1311.5,1508.0 L1313.5,1508.2 L1315.5,1508.5 L1317.5,1508.7 L1319.5,1509.0 L1321.5,1509.2 L1323.5,1509.5 L1325.5,1509.7 L1327.5,1510.0 L1329.5,1510.2 L1331.5,1510.5 L1333.5,1510.7 L1335.5,1511.0 L1337.5,1511.2 L1339.5,1511.4 L1341.5,1511.7 L1343.5,1511.9 L1345.5,1512.2 L1347.5,1512.4 L1349.5,1512.7 L1351.5,1512.9 L1353.5,1513.2 L1355.5,1513.4 L1357.5,1513.6 L1359.5,1513.9 L1361.5,1514.1 L1363.5,1514.4 L1365.5,1514.6 L1367.5,1514.8 L1369.5,1515.1 L1371.5,1515.3 L1373.5,1515.5 L1375.5,1515.8 L1377.5,1516.0 L1379.5,1516.3 L1381.5,1516.5 L1383.5,1516.7 L1385.5,1517.0 L1387.5,1517.2 L1389.5,1517.4 L1391.5,1517.7 L1393.5,1517.9 L1395.5,1518.1 L1397.5,1518.4 L1399.5,1518.6 L1401.5,1518.8 L1403.5,1519.1 L1405.5,1519.3 L1407.5,1519.5 L1409.5,1519.8 L1411.5,1520.0 L1413.5,1520.2 L1415.5,1520.5 L1417.5,1520.7 L1419.5,1520.9 L1421.5,1521.2 L1423.5,1521.4 L1425.5,1521.6 L1427.5,1521.9 L1429.5,1522.1 L1431.5,1522.4 L1433.5,1522.6 L1435.5,1522.8 L1437.5,1523.1 L1439.5,1523.3 L1441.5,1523.5 L1443.5,1523.8 L1445.5,1524.0 L1447.5,1524.2 L1449.5,1524.5 L1451.5,1524.7 L1453.5,1524.9 L1455.5,1525.2 L1457.5,1525.4 L1459.5,1525.7 L1461.5,1525.9 L1463.5,1526.1 L1465.5,1526.4 L1467.5,1526.6 L1469.5,1526.8 L1471.5,1527.1 L1473.5,1527.3 L1475.5,1527.6 L1477.5,1527.8 L1479.5,1528.0 L1481.5,1528.3 L1483.5,1528.5 L1485.5,1528.8 L1487.5,1529.0 L1489.5,1529.2 L1491.5,1529.5 L1493.5,1529.7 L1495.5,1529.9 L1497.5,1530.2 L1499.5,1530.4 L1501.5,1530.7 L1503.5,1530.9 L1505.5,1531.1 L1507.5,1531.4 L1509.5,1531.6 L1511.5,1531.8 L1513.5,1532.1 L1515.5,1532.3 L1517.5,1532.6 L1519.5,1532.8 L1521.5,1533.0 L1523.5,1533.3 L1525.5,1533.5 L1527.5,1533.7 L1529.5,1534.0 L1531.5,1534.2 L1533.5,1534.4 L1535.5,1534.6 L1537.5,1534.9 L1539.5,1535.1 L1541.5,1535.3 L1543.5,1535.6 L1545.5,1535.8 L1547.5,1536.0 L1549.5,1536.2 L1551.5,1536.4 L1553.5,1536.7 L1555.5,1536.9 L1557.5,1537.1 L1559.5,1537.3 L1561.5,1537.5 L1563.5,1537.8 L1565.5,1538.0 L1567.5,1538.2 L1569.5,1538.4 L1571.5,1538.6 L1573.5,1538.8 L1575.5,1539.0 L1577.5,1539.2 L1579.5,1539.4 L1581.5,1539.6 L1583.5,1539.8 L1585.5,1540.0 L1587.5,1540.2 L1589.5,1540.4 L1591.5,1540.6 L1593.5,1540.8 L1595.5,1541.0 L1597.5,1541.2 L1599.5,1541.4 L1601.5,1541.6 L1603.5,1541.8 L1605.5,1541.9 L1607.5,1542.1 L1609.5,1542.3 L1611.5,1542.5 L1613.5,1542.7 L1615.5,1542.8 L1617.5,1543.0 L1619.5,1543.2 L1621.5,1543.3 L1623.5,1543.5 L1625.5,1543.7 L1627.5,1543.8 L1629.5,1544.0 L1631.5,1544.2 L1633.5,1544.3 L1635.5,1544.5 L1637.5,1544.6 L1639.5,1544.8 L1641.5,1544.9 L1643.5,1545.1 L1645.5,1545.2 L1647.5,1545.4 L1649.5,1545.5 L1651.5,1545.6 L1653.5,1545.8 L1655.5,1545.9 L1657.5,1546.0 L1659.5,1546.2 L1661.5,1546.3 L1663.5,1546.4 L1665.5,1546.6 L1667.5,1546.7 L1669.5,1546.8 L1671.5,1546.9 L1673.5,1547.0 L1675.5,1547.2 L1677.5,1547.3 L1679.5,1547.4 L1681.5,1547.5 L1683.5,1547.6 L1685.5,1547.7 L1687.5,1547.8 L1689.5,1547.9 L1691.5,1548.0 L1693.5,1548.1 L1695.5,1548.2 L1697.5,1548.3 L1699.5,1548.4 L1701.5,1548.5 L1703.5,1548.6 L1705.5,1548.7 L1707.5,1548.8 L1709.5,1548.9 L1711.5,1548.9 L1713.5,1549.0 L1715.5,1549.1 L1717.5,1549.2 L1719.5,1549.3 L1721.5,1549.3 L1723.5,1549.4 L1725.5,1549.5 L1727.5,1549.6 L1729.5,1549.6 L1731.5,1549.7 L1733.5,1549.8 L1735.5,1549.8 L1737.5,1549.9 L1739.5,1550.0 L1741.5,1550.0 L1743.5,1550.1 L1745.5,1550.1 L1747.5,1550.2 L1749.5,1550.2 L1751.5,1550.3 L1753.5,1550.4 L1755.5,1550.4 L1757.5,1550.5 L1759.5,1550.5 L1761.5,1550.6 L1763.5,1550.6 L1765.5,1550.7 L1767.5,1550.7 L1769.5,1550.7 L1771.5,1550.8 L1773.5,1550.8 L1775.5,1550.9 L1777.5,1550.9 L1779.5,1550.9 L1781.5,1551.0 L1783.5,1551.0 L1785.5,1551.1 L1787.5,1551.1 L1789.5,1551.1 L1791.5,1551.2 L1793.5,1551.2 L1795.5,1551.2 L1797.5,1551.3 L1799.5,1551.3 L1801.5,1551.3 L1803.5,1551.3 L1805.5,1551.4 L1807.5,1551.4 L1809.5,1551.4 L1811.5,1551.4 L1813.5,1551.5 L1815.5,1551.5 L1817.5,1551.5 L1819.5,1551.5 L1821.5,1551.6 L1823.5,1551.6 L1825.5,1551.6 L1827.5,1551.6 L1829.5,1551.6 L1831.5,1551.7 L1833.5,1551.7 L1835.5,1551.7 L1837.5,1551.7 L1839.5,1551.7 L1841.5,1551.7 L1843.5,1551.8 L1845.5,1551.8 L1847.5,1551.8 L1849.5,1551.8 L1851.5,1551.8 L1853.5,1551.8 L1855.5,1551.8 L1857.5,1551.9 L1859.5,1551.9 L1861.5,1551.9 L1863.5,1551.9 L1865.5,1551.9 L1867.5,1551.9 L1869.5,1551.9 L1871.5,1551.9 L1873.5,1551.9 L1875.5,1551.9 L1877.5,1552.0 L1879.5,1552.0 L1881.5,1552.0 L1883.5,1552.0 L1885.5,1552.0 L1887.5,1552.0 L1889.5,1552.0 L1891.5,1552.0 L1893.5,1552.0 L1895.5,1552.0 L1897.5,1552.0 L1899.5,1552.0 L1901.5,1552.0 L1903.5,1552.0 L1905.5,1552.0 L1907.5,1552.1 L1909.5,1552.1 L1911.5,1552.1 L1913.5,1552.1 L1915.5,1552.1 L1917.5,1552.1 L1919.5,1552.1 L1921.5,1552.1 L1923.5,1552.1 L1925.5,1552.1 L1927.5,1552.1 L1929.5,1552.1 L1931.5,1552.1 L1933.5,1552.1 L1935.5,1552.1 L1937.5,1552.1 L1939.5,1552.1 L1941.5,1552.1 L1943.5,1552.1 L1945.5,1552.1 L1947.5,1552.1 L1949.5,1552.1 L1951.5,1552.1 L1953.5,1552.1 L1955.5,1552.1 L1957.5,1552.1 L1959.5,1552.1 L1961.5,1552.1 L1963.5,1552.1 L1965.5,1552.1 L1967.5,1552.1 L1969.5,1552.1 L1971.5,1552.1 L1973.5,1552.1 L1975.5,1552.1 L1977.5,1552.1 L1979.5,1552.1 L1981.5,1552.1 L1983.5,1552.1 L1985.5,1552.1 L1987.5,1552.1 L1989.5,1552.1 L1991.5,1552.2 L1993.5,1552.2 L1995.5,1552.2 L1997.5,1552.2 L1999.5,1552.2 L2001.5,1552.2 L2003.5,1552.2 L2005.5,1552.2 L2007.5,1552.2 L2009.5,1552.2 L2011.5,1552.2 L2013.5,1552.2 L2015.5,1552.2 L2017.5,1552.2 L2019.5,1552.2 L2021.5,1552.2 L2023.5,1552.2 L2025.5,1552.2 L2027.5,1552.2 L2029.5,1552.2 L2031.5,1552.2 L2033.5,1552.2 L2035.5,1552.2 L2037.5,1552.2 L2039.5,1552.2 L2041.5,1552.2 L2043.5,1552.2 L2045.5,1552.2 L2047.5,1552.2 L2049.5,1552.2 L2051.5,1552.2 L2053.5,1552.2 L2055.5,1552.2 L2057.5,1552.2 L2059.5,1552.2 L2061.5,1552.2 L2063.5,1552.2 L2065.5,1552.2 L2067.5,1552.2 L2069.5,1552.2 L2071.5,1552.2 L2073.5,1552.2 L2075.5,1552.2 L2077.5,1552.2 L2079.5,1552.2 L2081.5,1552.2 L2083.5,1552.2 L2085.5,1552.2 L2087.5,1552.2 L2089.5,1552.2 L2091.5,1552.2 L2093.5,1552.2 L2095.5,1552.2 L2097.5,1552.2 L2099.5,1552.2 L2101.5,1552.2 L2103.5,1552.2 L2105.5,1552.2 L2107.5,1552.2 L2109.5,1552.2 L2111.5,1552.2 L2113.5,1552.2 L2115.5,1552.2 L2117.5,1552.2 L2119.5,1552.2 L2121.5,1552.2 L2123.5,1552.2 L2125.5,1552.2 L2127.5,1552.2 L2129.5,1552.2 L2131.5,1552.2 L2133.5,1552.2 L2135.5,1552.2 L2137.5,1552.2 L2139.5,1552.2 L2141.5,1552.2 L2143.5,1552.2 L2145.5,1552.2 L2147.5,1552.2 L2149.5,1552.2 L2151.5,1552.2 L2153.5,1552.2 L2155.5,1552.2 L2157.5,1552.2 L2159.5,1552.2 L2161.5,1552.2 L2163.5,1552.2 L2165.5,1552.2 L2167.5,1552.2 L2169.5,1552.2 L2170.5,1552.9 L2182.3,1561.1 L2194.0,1547.4 L2205.8,1547.0 L2216.4,1543.8 L2228.7,1552.3 L2239.9,1547.4 L2251.6,1551.1 L2262.2,1551.1 L2274.5,1559.6 L2285.7,1558.2 L2297.5,1547.0 L2309.2,1551.7 L2319.8,1547.8 L2331.6,1559.3 L2342.1,1558.2 L2349.8,1553.5"/>
</g>
<line x1="1322.5" y1="87" x2="1327.5" y2="1542" stroke="#000" stroke-width="2.6" stroke-dasharray="10.6,7.23"/>
<line x1="1625.0" y1="92.3" x2="1360.0" y2="92.3" stroke="#000" stroke-width="3.4"/>
<polygon fill="#000" points="1328.0,92.3 1362.0,83.3 1362.0,101.3"/>
<line x1="1164.4" y1="205.9" x2="1252.4" y2="317.0" stroke="#000" stroke-width="3.4"/>
<polygon fill="#000" points="1272.3,342.1 1244.1,321.0 1258.2,309.9"/>
<line x1="933.1" y1="335.2" x2="1013.5" y2="406.6" stroke="#000" stroke-width="3.4"/>
<polygon fill="#000" points="1037.4,427.9 1006.0,412.0 1018.0,398.6"/>
<line x1="1114.9" y1="1065.9" x2="1203.3" y2="1177.5" stroke="#000" stroke-width="3.4"/>
<polygon fill="#000" points="1223.2,1202.6 1195.0,1181.5 1209.1,1170.4"/>
<line x1="845.2" y1="1199.1" x2="925.6" y2="1270.9" stroke="#000" stroke-width="3.4"/>
<polygon fill="#000" points="949.5,1292.2 918.1,1276.3 930.1,1262.8"/>
<g fill="#000">
<rect x="274" y="62" width="6" height="1548"/>
<rect x="274" y="1578" width="2079" height="6"/>
<rect x="274" y="64" width="2077" height="2"/>
<rect x="2349" y="64" width="2" height="1516"/>
<rect x="274.00" y="1582" width="6" height="27.5"/>
<rect x="389.67" y="1582" width="5" height="14.5"/>
<rect x="504.34" y="1582" width="6" height="27.5"/>
<rect x="620.01" y="1582" width="5" height="14.5"/>
<rect x="734.68" y="1582" width="6" height="27.5"/>
<rect x="850.35" y="1582" width="5" height="14.5"/>
<rect x="965.02" y="1582" width="6" height="27.5"/>
<rect x="1080.69" y="1582" width="5" height="14.5"/>
<rect x="1195.36" y="1582" width="6" height="27.5"/>
<rect x="1311.03" y="1582" width="5" height="14.5"/>
<rect x="1425.70" y="1582" width="6" height="27.5"/>
<rect x="1541.37" y="1582" width="5" height="14.5"/>
<rect x="1656.04" y="1582" width="6" height="27.5"/>
<rect x="1771.71" y="1582" width="5" height="14.5"/>
<rect x="1886.38" y="1582" width="6" height="27.5"/>
<rect x="2002.05" y="1582" width="5" height="14.5"/>
<rect x="2116.72" y="1582" width="6" height="27.5"/>
<rect x="2232.39" y="1582" width="5" height="14.5"/>
<rect x="2347.06" y="1582" width="6" height="27.5"/>
</g>
<g style="font-family:'Liberation Sans',Arial,Helvetica,sans-serif;font-weight:bold;font-kerning:none">
<text transform="translate(952.16,184.10) scale(0.9888,1.0576)" font-size="76" fill="#0000ff">Ta 4f7/2</text>
<text transform="translate(694.06,305.90) scale(0.9895,1.0500)" font-size="76" fill="#ff00ff">Ta 4f5/2</text>
<text transform="translate(892.85,1025.80) scale(0.9902,1.0500)" font-size="76" fill="#0000ff">Ta 4f7/2</text>
<text transform="translate(546.06,1181.60) scale(0.9888,1.0423)" font-size="76" fill="#ff00ff">Ta 4f5/2</text>
<text transform="translate(1695.71,697.30) scale(0.9922,1.0647)" font-size="76" fill="#ff0000">O 2s</text>
<text transform="translate(1471.81,1326.20) scale(0.9922,1.0534)" font-size="76" fill="#ff0000">O 2s</text>
<text transform="translate(1600.10,181.10) scale(0.9398,1.0519)" font-size="76" fill="#000">Ta</text>
<text transform="translate(1687.41,206.80) scale(1.0201,1.0439)" font-size="45" fill="#000">2</text>
<text transform="translate(1711.77,180.80) scale(1.0056,1.0515)" font-size="76" fill="#000">O</text>
<text transform="translate(1771.52,206.80) scale(0.9960,1.0594)" font-size="45" fill="#000">5</text>
<text transform="translate(291.89,706.20) scale(0.9625,1.0500)" font-size="76" fill="#000">4Ta</text>
<text transform="translate(421.88,731.80) scale(1.0351,1.0724)" font-size="45" fill="#000">IMP</text>
<text transform="translate(504.11,706.20) scale(0.9986,1.0500)" font-size="76" fill="#000">Si-2Ag</text>
<text transform="translate(294.75,1366.20) scale(0.9988,1.0461)" font-size="76" fill="#000">4TaSi</text>
<text transform="translate(496.84,1391.90) scale(1.0152,1.0611)" font-size="45" fill="#000">NHSG</text>
<text transform="translate(630.27,1366.20) scale(0.9886,1.0461)" font-size="76" fill="#000">-2Ag</text>
<text transform="translate(957.65,1816.10) scale(0.9940,0.9918)" font-size="76" fill="#000">Binding energy (eV)</text>
<text transform="translate(236.49,1685.3) scale(0.97,1.0442)" font-size="76">36</text>
<text transform="translate(465.69,1685.3) scale(0.97,1.0442)" font-size="76">34</text>
<text transform="translate(697.31,1685.3) scale(0.97,1.0442)" font-size="76">32</text>
<text transform="translate(927.69,1685.3) scale(0.97,1.0442)" font-size="76">30</text>
<text transform="translate(1157.22,1685.3) scale(0.97,1.0442)" font-size="76">28</text>
<text transform="translate(1387.75,1685.3) scale(0.97,1.0442)" font-size="76">26</text>
<text transform="translate(1616.96,1685.3) scale(0.97,1.0442)" font-size="76">24</text>
<text transform="translate(1848.58,1685.3) scale(0.97,1.0442)" font-size="76">22</text>
<text transform="translate(2078.95,1685.3) scale(0.97,1.0442)" font-size="76">20</text>
<clipPath id="c1"><path clip-rule="evenodd" d="M2200,1600H2471V1720H2200Z M2311.52,1675.40H2325.08V1690H2311.52Z M2335.19,1675.40H2347.82V1690H2335.19Z"/></clipPath>
<g clip-path="url(#c1)"><text transform="translate(2307.87,1685.3) scale(0.97,1.0442)" font-size="76">18</text></g>
<text transform="translate(147.1,1283.8) rotate(-90) scale(1.0026,1.0064) translate(-5.08,0)" font-size="76">Relative intensity (a.u.)</text>
</g>
</svg></body></html>
